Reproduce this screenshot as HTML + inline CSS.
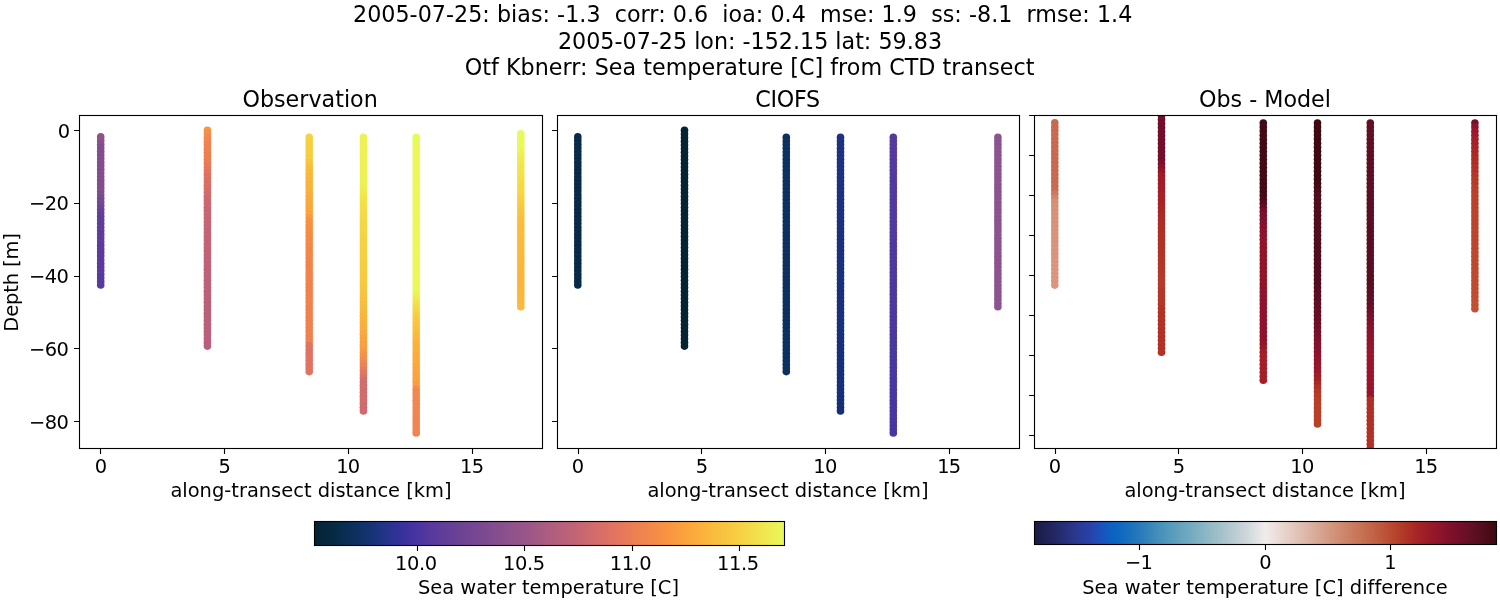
<!DOCTYPE html>
<html><head><meta charset="utf-8"><title>CTD transect</title>
<style>html,body{margin:0;padding:0;background:#fff}body{width:1500px;height:600px;overflow:hidden}</style></head>
<body>
<svg width="1500" height="600" viewBox="0 0 1500 600" style="display:block;font-family:'DejaVu Sans','Liberation Sans',sans-serif;font-variant-ligatures:none;font-feature-settings:'liga' 0,'clig' 0" fill="#000">
<rect width="1500" height="600" fill="#fff"/>
<defs><clipPath id="c0"><rect x="79.5" y="115.5" width="463.0" height="333.0"/></clipPath><clipPath id="c1"><rect x="557.5" y="115.5" width="462.0" height="333.0"/></clipPath><clipPath id="c2"><rect x="1034.5" y="115.5" width="462.0" height="333.0"/></clipPath><linearGradient id="gt" x1="0" x2="1" y1="0" y2="0"><stop offset="0.0000" stop-color="#042333"/><stop offset="0.0078" stop-color="#042436"/><stop offset="0.0156" stop-color="#05263a"/><stop offset="0.0234" stop-color="#05273d"/><stop offset="0.0312" stop-color="#062840"/><stop offset="0.0391" stop-color="#062943"/><stop offset="0.0469" stop-color="#072a47"/><stop offset="0.0547" stop-color="#082c4b"/><stop offset="0.0625" stop-color="#092d50"/><stop offset="0.0703" stop-color="#0a2e55"/><stop offset="0.0781" stop-color="#0c2f59"/><stop offset="0.0859" stop-color="#0d305e"/><stop offset="0.0938" stop-color="#0e3163"/><stop offset="0.1016" stop-color="#103268"/><stop offset="0.1094" stop-color="#12336d"/><stop offset="0.1172" stop-color="#153372"/><stop offset="0.1250" stop-color="#173477"/><stop offset="0.1328" stop-color="#1a347c"/><stop offset="0.1406" stop-color="#1f3482"/><stop offset="0.1484" stop-color="#233487"/><stop offset="0.1562" stop-color="#27348d"/><stop offset="0.1641" stop-color="#2b3391"/><stop offset="0.1719" stop-color="#2e3296"/><stop offset="0.1797" stop-color="#333299"/><stop offset="0.1875" stop-color="#38329c"/><stop offset="0.1953" stop-color="#3c329e"/><stop offset="0.2031" stop-color="#41329f"/><stop offset="0.2109" stop-color="#45339f"/><stop offset="0.2188" stop-color="#4934a0"/><stop offset="0.2266" stop-color="#4d35a0"/><stop offset="0.2344" stop-color="#50369f"/><stop offset="0.2422" stop-color="#54389e"/><stop offset="0.2500" stop-color="#58399d"/><stop offset="0.2578" stop-color="#5b3a9c"/><stop offset="0.2656" stop-color="#5d3c9b"/><stop offset="0.2734" stop-color="#603d9a"/><stop offset="0.2812" stop-color="#633e99"/><stop offset="0.2891" stop-color="#653f98"/><stop offset="0.2969" stop-color="#684096"/><stop offset="0.3047" stop-color="#6a4296"/><stop offset="0.3125" stop-color="#6d4395"/><stop offset="0.3203" stop-color="#704494"/><stop offset="0.3281" stop-color="#724594"/><stop offset="0.3359" stop-color="#744693"/><stop offset="0.3438" stop-color="#774792"/><stop offset="0.3516" stop-color="#7a4892"/><stop offset="0.3594" stop-color="#7c4991"/><stop offset="0.3672" stop-color="#7e4a90"/><stop offset="0.3750" stop-color="#814c90"/><stop offset="0.3828" stop-color="#844d8f"/><stop offset="0.3906" stop-color="#864e8e"/><stop offset="0.3984" stop-color="#884f8d"/><stop offset="0.4062" stop-color="#8b508c"/><stop offset="0.4141" stop-color="#8e518c"/><stop offset="0.4219" stop-color="#90528b"/><stop offset="0.4297" stop-color="#93538a"/><stop offset="0.4375" stop-color="#965489"/><stop offset="0.4453" stop-color="#985588"/><stop offset="0.4531" stop-color="#9b5688"/><stop offset="0.4609" stop-color="#9e5886"/><stop offset="0.4688" stop-color="#a15985"/><stop offset="0.4766" stop-color="#a45a84"/><stop offset="0.4844" stop-color="#a75b82"/><stop offset="0.4922" stop-color="#aa5c81"/><stop offset="0.5000" stop-color="#ad5d80"/><stop offset="0.5078" stop-color="#b05e7f"/><stop offset="0.5156" stop-color="#b35f7d"/><stop offset="0.5234" stop-color="#b6607c"/><stop offset="0.5312" stop-color="#b9617a"/><stop offset="0.5391" stop-color="#bc6279"/><stop offset="0.5469" stop-color="#bf6377"/><stop offset="0.5547" stop-color="#c26476"/><stop offset="0.5625" stop-color="#c56574"/><stop offset="0.5703" stop-color="#c86772"/><stop offset="0.5781" stop-color="#cb6870"/><stop offset="0.5859" stop-color="#ce6a6e"/><stop offset="0.5938" stop-color="#d16b6c"/><stop offset="0.6016" stop-color="#d46c6a"/><stop offset="0.6094" stop-color="#d86e68"/><stop offset="0.6172" stop-color="#db6f66"/><stop offset="0.6250" stop-color="#de7164"/><stop offset="0.6328" stop-color="#e07362"/><stop offset="0.6406" stop-color="#e27560"/><stop offset="0.6484" stop-color="#e4775d"/><stop offset="0.6562" stop-color="#e6795b"/><stop offset="0.6641" stop-color="#e87b58"/><stop offset="0.6719" stop-color="#ea7d56"/><stop offset="0.6797" stop-color="#ed7f54"/><stop offset="0.6875" stop-color="#ee8151"/><stop offset="0.6953" stop-color="#f0834f"/><stop offset="0.7031" stop-color="#f1854e"/><stop offset="0.7109" stop-color="#f2884c"/><stop offset="0.7188" stop-color="#f48a4a"/><stop offset="0.7266" stop-color="#f58c48"/><stop offset="0.7344" stop-color="#f68e46"/><stop offset="0.7422" stop-color="#f89144"/><stop offset="0.7500" stop-color="#f99342"/><stop offset="0.7578" stop-color="#f99641"/><stop offset="0.7656" stop-color="#fa9a40"/><stop offset="0.7734" stop-color="#fa9d3f"/><stop offset="0.7812" stop-color="#faa03e"/><stop offset="0.7891" stop-color="#fba33d"/><stop offset="0.7969" stop-color="#fba73c"/><stop offset="0.8047" stop-color="#fbaa3c"/><stop offset="0.8125" stop-color="#fbad3c"/><stop offset="0.8203" stop-color="#fbb03d"/><stop offset="0.8281" stop-color="#fab33d"/><stop offset="0.8359" stop-color="#fab63d"/><stop offset="0.8438" stop-color="#fab93e"/><stop offset="0.8516" stop-color="#fabc3e"/><stop offset="0.8594" stop-color="#f9bf3f"/><stop offset="0.8672" stop-color="#f9c240"/><stop offset="0.8750" stop-color="#f8c440"/><stop offset="0.8828" stop-color="#f8c741"/><stop offset="0.8906" stop-color="#f8ca42"/><stop offset="0.8984" stop-color="#f7cd43"/><stop offset="0.9062" stop-color="#f6d144"/><stop offset="0.9141" stop-color="#f5d446"/><stop offset="0.9219" stop-color="#f4d847"/><stop offset="0.9297" stop-color="#f3db49"/><stop offset="0.9375" stop-color="#f2de4a"/><stop offset="0.9453" stop-color="#f2e24c"/><stop offset="0.9531" stop-color="#f0e54e"/><stop offset="0.9609" stop-color="#efe950"/><stop offset="0.9688" stop-color="#edec52"/><stop offset="0.9766" stop-color="#ecf054"/><stop offset="0.9844" stop-color="#eaf356"/><stop offset="0.9922" stop-color="#e9f758"/><stop offset="1.0000" stop-color="#e7fa5a"/></linearGradient><linearGradient id="gb" x1="0" x2="1" y1="0" y2="0"><stop offset="0.0000" stop-color="#181c43"/><stop offset="0.0078" stop-color="#1a1e49"/><stop offset="0.0156" stop-color="#1c204e"/><stop offset="0.0234" stop-color="#1e2254"/><stop offset="0.0312" stop-color="#20245a"/><stop offset="0.0391" stop-color="#222660"/><stop offset="0.0469" stop-color="#232966"/><stop offset="0.0547" stop-color="#252c6d"/><stop offset="0.0625" stop-color="#262e75"/><stop offset="0.0703" stop-color="#27317d"/><stop offset="0.0781" stop-color="#293484"/><stop offset="0.0859" stop-color="#2a378c"/><stop offset="0.0938" stop-color="#2a3a92"/><stop offset="0.1016" stop-color="#293c99"/><stop offset="0.1094" stop-color="#293f9f"/><stop offset="0.1172" stop-color="#2841a6"/><stop offset="0.1250" stop-color="#2645ac"/><stop offset="0.1328" stop-color="#224ab3"/><stop offset="0.1406" stop-color="#1d4fb9"/><stop offset="0.1484" stop-color="#1755bd"/><stop offset="0.1562" stop-color="#125ac0"/><stop offset="0.1641" stop-color="#0e5fc0"/><stop offset="0.1719" stop-color="#0b63c0"/><stop offset="0.1797" stop-color="#0d66bf"/><stop offset="0.1875" stop-color="#106abe"/><stop offset="0.1953" stop-color="#146dbd"/><stop offset="0.2031" stop-color="#1870bc"/><stop offset="0.2109" stop-color="#1d73bb"/><stop offset="0.2188" stop-color="#2277ba"/><stop offset="0.2266" stop-color="#277aba"/><stop offset="0.2344" stop-color="#2c7db9"/><stop offset="0.2422" stop-color="#3281b9"/><stop offset="0.2500" stop-color="#3886b9"/><stop offset="0.2578" stop-color="#3e8ab9"/><stop offset="0.2656" stop-color="#438dba"/><stop offset="0.2734" stop-color="#4891ba"/><stop offset="0.2812" stop-color="#4e94ba"/><stop offset="0.2891" stop-color="#5398bb"/><stop offset="0.2969" stop-color="#589bbc"/><stop offset="0.3047" stop-color="#5d9ebd"/><stop offset="0.3125" stop-color="#63a1bd"/><stop offset="0.3203" stop-color="#68a4be"/><stop offset="0.3281" stop-color="#6da7bf"/><stop offset="0.3359" stop-color="#72aac0"/><stop offset="0.3438" stop-color="#78acc1"/><stop offset="0.3516" stop-color="#7eafc2"/><stop offset="0.3594" stop-color="#83b2c3"/><stop offset="0.3672" stop-color="#89b5c4"/><stop offset="0.3750" stop-color="#8eb8c5"/><stop offset="0.3828" stop-color="#94bac6"/><stop offset="0.3906" stop-color="#9abdc8"/><stop offset="0.3984" stop-color="#a0bfc9"/><stop offset="0.4062" stop-color="#a5c2cb"/><stop offset="0.4141" stop-color="#abc5cc"/><stop offset="0.4219" stop-color="#b1c8ce"/><stop offset="0.4297" stop-color="#b7cbd1"/><stop offset="0.4375" stop-color="#bdced4"/><stop offset="0.4453" stop-color="#c3d1d6"/><stop offset="0.4531" stop-color="#cad4d9"/><stop offset="0.4609" stop-color="#d0d7db"/><stop offset="0.4688" stop-color="#d6dcde"/><stop offset="0.4766" stop-color="#dde0e2"/><stop offset="0.4844" stop-color="#e4e4e5"/><stop offset="0.4922" stop-color="#eae8e8"/><stop offset="0.5000" stop-color="#f1eceb"/><stop offset="0.5078" stop-color="#efe7e5"/><stop offset="0.5156" stop-color="#ede3df"/><stop offset="0.5234" stop-color="#ebded9"/><stop offset="0.5312" stop-color="#e9dad3"/><stop offset="0.5391" stop-color="#e7d5cd"/><stop offset="0.5469" stop-color="#e6d0c8"/><stop offset="0.5547" stop-color="#e4ccc2"/><stop offset="0.5625" stop-color="#e2c7bc"/><stop offset="0.5703" stop-color="#e1c2b6"/><stop offset="0.5781" stop-color="#dfbdb0"/><stop offset="0.5859" stop-color="#ddb8aa"/><stop offset="0.5938" stop-color="#dcb3a4"/><stop offset="0.6016" stop-color="#daaf9e"/><stop offset="0.6094" stop-color="#d8aa98"/><stop offset="0.6172" stop-color="#d7a592"/><stop offset="0.6250" stop-color="#d5a08c"/><stop offset="0.6328" stop-color="#d49c86"/><stop offset="0.6406" stop-color="#d29781"/><stop offset="0.6484" stop-color="#d1937b"/><stop offset="0.6562" stop-color="#cf8e76"/><stop offset="0.6641" stop-color="#ce8a70"/><stop offset="0.6719" stop-color="#cc856b"/><stop offset="0.6797" stop-color="#cb8166"/><stop offset="0.6875" stop-color="#ca7c60"/><stop offset="0.6953" stop-color="#c8785b"/><stop offset="0.7031" stop-color="#c77456"/><stop offset="0.7109" stop-color="#c56f51"/><stop offset="0.7188" stop-color="#c46b4d"/><stop offset="0.7266" stop-color="#c26649"/><stop offset="0.7344" stop-color="#c06245"/><stop offset="0.7422" stop-color="#bf5d40"/><stop offset="0.7500" stop-color="#bd593c"/><stop offset="0.7578" stop-color="#bb5438"/><stop offset="0.7656" stop-color="#b94e34"/><stop offset="0.7734" stop-color="#b84930"/><stop offset="0.7812" stop-color="#b6442c"/><stop offset="0.7891" stop-color="#b43f28"/><stop offset="0.7969" stop-color="#b13a28"/><stop offset="0.8047" stop-color="#ae3427"/><stop offset="0.8125" stop-color="#ac2f27"/><stop offset="0.8203" stop-color="#a92a26"/><stop offset="0.8281" stop-color="#a62526"/><stop offset="0.8359" stop-color="#a22227"/><stop offset="0.8438" stop-color="#9f1e28"/><stop offset="0.8516" stop-color="#9b1b28"/><stop offset="0.8594" stop-color="#981829"/><stop offset="0.8672" stop-color="#94162a"/><stop offset="0.8750" stop-color="#8f152a"/><stop offset="0.8828" stop-color="#8a142a"/><stop offset="0.8906" stop-color="#85122a"/><stop offset="0.8984" stop-color="#80112a"/><stop offset="0.9062" stop-color="#7b102a"/><stop offset="0.9141" stop-color="#770f2a"/><stop offset="0.9219" stop-color="#710f29"/><stop offset="0.9297" stop-color="#6c0f27"/><stop offset="0.9375" stop-color="#670f25"/><stop offset="0.9453" stop-color="#620f24"/><stop offset="0.9531" stop-color="#5d0f22"/><stop offset="0.9609" stop-color="#570e20"/><stop offset="0.9688" stop-color="#520d1d"/><stop offset="0.9766" stop-color="#4c0c1a"/><stop offset="0.9844" stop-color="#470b17"/><stop offset="0.9922" stop-color="#410a15"/><stop offset="1.0000" stop-color="#3c0912"/></linearGradient></defs>
<g font-size="22.22px" text-anchor="middle">
<text x="353.0" y="21.8" text-anchor="start" textLength="779.3" xml:space="preserve">2005-07-25: bias: -1.3  corr: 0.6  ioa: 0.4  mse: 1.9  ss: -8.1  rmse: 1.4</text>
<text x="750" y="49.0">2005-07-25 lon: -152.15 lat: 59.83</text>
<text x="464.8" y="75.4" text-anchor="start" textLength="569.6">Otf Kbnerr: Sea temperature [C] from CTD transect</text>
<text x="310.1" y="106.5">Observation</text>
<text x="787.7" y="106.5" textLength="65">CIOFS</text>
<text x="1264.95" y="106.5">Obs - Model</text>
</g>
<g clip-path="url(#c0)">
<circle cx="100.7" cy="136.9" r="3.80" fill="#92538a"/><circle cx="100.7" cy="140.6" r="3.80" fill="#8d518b"/><circle cx="100.7" cy="144.2" r="3.80" fill="#88508c"/><circle cx="100.7" cy="147.8" r="3.80" fill="#834e8d"/><circle cx="100.7" cy="151.4" r="3.80" fill="#824e8d"/><circle cx="100.7" cy="155.0" r="3.80" fill="#824e8d"/><circle cx="100.7" cy="158.6" r="3.80" fill="#824e8d"/><circle cx="100.7" cy="162.2" r="3.80" fill="#824e8d"/><circle cx="100.7" cy="165.8" r="3.80" fill="#824e8d"/><circle cx="100.7" cy="169.4" r="3.80" fill="#824e8d"/><circle cx="100.7" cy="173.1" r="3.80" fill="#824e8c"/><circle cx="100.7" cy="176.7" r="3.80" fill="#824e8c"/><circle cx="100.7" cy="180.3" r="3.80" fill="#824e8c"/><circle cx="100.7" cy="183.9" r="3.80" fill="#824e8c"/><circle cx="100.7" cy="187.5" r="3.80" fill="#824e8c"/><circle cx="100.7" cy="191.1" r="3.80" fill="#824e8c"/><circle cx="100.7" cy="194.7" r="3.80" fill="#7f4c8d"/><circle cx="100.7" cy="198.3" r="3.80" fill="#7a4a90"/><circle cx="100.7" cy="201.9" r="3.80" fill="#754892"/><circle cx="100.7" cy="205.6" r="3.80" fill="#704694"/><circle cx="100.7" cy="209.2" r="3.80" fill="#6b4396"/><circle cx="100.7" cy="212.8" r="3.80" fill="#664198"/><circle cx="100.7" cy="216.4" r="3.80" fill="#613f9a"/><circle cx="100.7" cy="220.0" r="3.80" fill="#5f3e9b"/><circle cx="100.7" cy="223.6" r="3.80" fill="#5e3e9b"/><circle cx="100.7" cy="227.2" r="3.80" fill="#5e3d9b"/><circle cx="100.7" cy="230.8" r="3.80" fill="#5e3d9b"/><circle cx="100.7" cy="234.4" r="3.80" fill="#5d3d9b"/><circle cx="100.7" cy="238.1" r="3.80" fill="#5d3d9b"/><circle cx="100.7" cy="241.7" r="3.80" fill="#5d3d9b"/><circle cx="100.7" cy="245.3" r="3.80" fill="#5c3c9b"/><circle cx="100.7" cy="248.9" r="3.80" fill="#5c3c9b"/><circle cx="100.7" cy="252.5" r="3.80" fill="#5b3c9b"/><circle cx="100.7" cy="256.1" r="3.80" fill="#5b3c9b"/><circle cx="100.7" cy="259.7" r="3.80" fill="#5b3c9b"/><circle cx="100.7" cy="263.3" r="3.80" fill="#5a3b9b"/><circle cx="100.7" cy="266.9" r="3.80" fill="#5a3b9b"/><circle cx="100.7" cy="270.6" r="3.80" fill="#5a3b9b"/><circle cx="100.7" cy="274.2" r="3.80" fill="#593b9b"/><circle cx="100.7" cy="277.8" r="3.80" fill="#593a9b"/><circle cx="100.7" cy="281.4" r="3.80" fill="#583a9b"/><circle cx="100.7" cy="285.0" r="3.80" fill="#583a9b"/>
<circle cx="207.4" cy="130.4" r="3.80" fill="#fa9342"/><circle cx="207.4" cy="134.1" r="3.80" fill="#f78e47"/><circle cx="207.4" cy="137.7" r="3.80" fill="#f4894b"/><circle cx="207.4" cy="141.4" r="3.80" fill="#f18450"/><circle cx="207.4" cy="145.0" r="3.80" fill="#f08350"/><circle cx="207.4" cy="148.7" r="3.80" fill="#f08151"/><circle cx="207.4" cy="152.3" r="3.80" fill="#ef8051"/><circle cx="207.4" cy="156.0" r="3.80" fill="#ef7e52"/><circle cx="207.4" cy="159.6" r="3.80" fill="#ee7d52"/><circle cx="207.4" cy="163.3" r="3.80" fill="#eb7a55"/><circle cx="207.4" cy="167.0" r="3.80" fill="#e97859"/><circle cx="207.4" cy="170.6" r="3.80" fill="#e6755c"/><circle cx="207.4" cy="174.3" r="3.80" fill="#e3725f"/><circle cx="207.4" cy="177.9" r="3.80" fill="#e17062"/><circle cx="207.4" cy="181.6" r="3.80" fill="#de6e64"/><circle cx="207.4" cy="185.2" r="3.80" fill="#db6d66"/><circle cx="207.4" cy="188.9" r="3.80" fill="#d86c68"/><circle cx="207.4" cy="192.6" r="3.80" fill="#d56a6a"/><circle cx="207.4" cy="196.2" r="3.80" fill="#d2696c"/><circle cx="207.4" cy="199.9" r="3.80" fill="#d0676e"/><circle cx="207.4" cy="203.5" r="3.80" fill="#cd6670"/><circle cx="207.4" cy="207.2" r="3.80" fill="#cc6671"/><circle cx="207.4" cy="210.8" r="3.80" fill="#cb6571"/><circle cx="207.4" cy="214.5" r="3.80" fill="#ca6572"/><circle cx="207.4" cy="218.1" r="3.80" fill="#c96472"/><circle cx="207.4" cy="221.8" r="3.80" fill="#c86473"/><circle cx="207.4" cy="225.5" r="3.80" fill="#c76473"/><circle cx="207.4" cy="229.1" r="3.80" fill="#c76474"/><circle cx="207.4" cy="232.8" r="3.80" fill="#c66374"/><circle cx="207.4" cy="236.4" r="3.80" fill="#c56374"/><circle cx="207.4" cy="240.1" r="3.80" fill="#c56375"/><circle cx="207.4" cy="243.7" r="3.80" fill="#c46375"/><circle cx="207.4" cy="247.4" r="3.80" fill="#c46375"/><circle cx="207.4" cy="251.0" r="3.80" fill="#c36276"/><circle cx="207.4" cy="254.7" r="3.80" fill="#c26276"/><circle cx="207.4" cy="258.4" r="3.80" fill="#c26276"/><circle cx="207.4" cy="262.0" r="3.80" fill="#c16276"/><circle cx="207.4" cy="265.7" r="3.80" fill="#c06277"/><circle cx="207.4" cy="269.3" r="3.80" fill="#c06277"/><circle cx="207.4" cy="273.0" r="3.80" fill="#bf6177"/><circle cx="207.4" cy="276.6" r="3.80" fill="#be6178"/><circle cx="207.4" cy="280.3" r="3.80" fill="#be6178"/><circle cx="207.4" cy="284.0" r="3.80" fill="#be6178"/><circle cx="207.4" cy="287.6" r="3.80" fill="#bd6178"/><circle cx="207.4" cy="291.3" r="3.80" fill="#bd6178"/><circle cx="207.4" cy="294.9" r="3.80" fill="#bd6178"/><circle cx="207.4" cy="298.6" r="3.80" fill="#bd6079"/><circle cx="207.4" cy="302.2" r="3.80" fill="#bc6079"/><circle cx="207.4" cy="305.9" r="3.80" fill="#bc6079"/><circle cx="207.4" cy="309.5" r="3.80" fill="#bc6079"/><circle cx="207.4" cy="313.2" r="3.80" fill="#bb6079"/><circle cx="207.4" cy="316.9" r="3.80" fill="#bb6079"/><circle cx="207.4" cy="320.5" r="3.80" fill="#bb6079"/><circle cx="207.4" cy="324.2" r="3.80" fill="#bb6079"/><circle cx="207.4" cy="327.8" r="3.80" fill="#ba6079"/><circle cx="207.4" cy="331.5" r="3.80" fill="#ba5f7a"/><circle cx="207.4" cy="335.1" r="3.80" fill="#ba5f7a"/><circle cx="207.4" cy="338.8" r="3.80" fill="#ba5f7a"/><circle cx="207.4" cy="342.4" r="3.80" fill="#b95f7a"/><circle cx="207.4" cy="346.1" r="3.80" fill="#b95f7a"/>
<circle cx="309.2" cy="137.3" r="3.80" fill="#f5d23e"/><circle cx="309.2" cy="141.0" r="3.80" fill="#f5d13e"/><circle cx="309.2" cy="144.6" r="3.80" fill="#f5d03e"/><circle cx="309.2" cy="148.3" r="3.80" fill="#f5d03e"/><circle cx="309.2" cy="152.0" r="3.80" fill="#f6cf3e"/><circle cx="309.2" cy="155.6" r="3.80" fill="#f6ce3e"/><circle cx="309.2" cy="159.3" r="3.80" fill="#f6cd3e"/><circle cx="309.2" cy="162.9" r="3.80" fill="#f8c63c"/><circle cx="309.2" cy="166.6" r="3.80" fill="#f9bf3b"/><circle cx="309.2" cy="170.3" r="3.80" fill="#faba3a"/><circle cx="309.2" cy="173.9" r="3.80" fill="#fab93a"/><circle cx="309.2" cy="177.6" r="3.80" fill="#fab73a"/><circle cx="309.2" cy="181.2" r="3.80" fill="#fab53a"/><circle cx="309.2" cy="184.9" r="3.80" fill="#fab43a"/><circle cx="309.2" cy="188.6" r="3.80" fill="#fab23a"/><circle cx="309.2" cy="192.2" r="3.80" fill="#fab03a"/><circle cx="309.2" cy="195.9" r="3.80" fill="#faad3b"/><circle cx="309.2" cy="199.5" r="3.80" fill="#fbab3b"/><circle cx="309.2" cy="203.2" r="3.80" fill="#fba93c"/><circle cx="309.2" cy="206.9" r="3.80" fill="#fba73c"/><circle cx="309.2" cy="210.5" r="3.80" fill="#fba53c"/><circle cx="309.2" cy="214.2" r="3.80" fill="#fba43c"/><circle cx="309.2" cy="217.8" r="3.80" fill="#fa9c3d"/><circle cx="309.2" cy="221.5" r="3.80" fill="#f9913e"/><circle cx="309.2" cy="225.2" r="3.80" fill="#f89040"/><circle cx="309.2" cy="228.8" r="3.80" fill="#f88e41"/><circle cx="309.2" cy="232.5" r="3.80" fill="#f78d42"/><circle cx="309.2" cy="236.1" r="3.80" fill="#f78b43"/><circle cx="309.2" cy="239.8" r="3.80" fill="#f68a44"/><circle cx="309.2" cy="243.5" r="3.80" fill="#f58945"/><circle cx="309.2" cy="247.1" r="3.80" fill="#f58846"/><circle cx="309.2" cy="250.8" r="3.80" fill="#f48747"/><circle cx="309.2" cy="254.4" r="3.80" fill="#f48648"/><circle cx="309.2" cy="258.1" r="3.80" fill="#f38649"/><circle cx="309.2" cy="261.8" r="3.80" fill="#f3854a"/><circle cx="309.2" cy="265.4" r="3.80" fill="#f2844b"/><circle cx="309.2" cy="269.1" r="3.80" fill="#f2834c"/><circle cx="309.2" cy="272.7" r="3.80" fill="#f2834c"/><circle cx="309.2" cy="276.4" r="3.80" fill="#f2834c"/><circle cx="309.2" cy="280.1" r="3.80" fill="#f2834d"/><circle cx="309.2" cy="283.7" r="3.80" fill="#f2824d"/><circle cx="309.2" cy="287.4" r="3.80" fill="#f1824d"/><circle cx="309.2" cy="291.0" r="3.80" fill="#f1824d"/><circle cx="309.2" cy="294.7" r="3.80" fill="#f1824d"/><circle cx="309.2" cy="298.4" r="3.80" fill="#f1824e"/><circle cx="309.2" cy="302.0" r="3.80" fill="#f1824e"/><circle cx="309.2" cy="305.7" r="3.80" fill="#f1824e"/><circle cx="309.2" cy="309.3" r="3.80" fill="#f1814e"/><circle cx="309.2" cy="313.0" r="3.80" fill="#f1814e"/><circle cx="309.2" cy="316.7" r="3.80" fill="#f1814f"/><circle cx="309.2" cy="320.3" r="3.80" fill="#f1814f"/><circle cx="309.2" cy="324.0" r="3.80" fill="#f1814f"/><circle cx="309.2" cy="327.6" r="3.80" fill="#f0814f"/><circle cx="309.2" cy="331.3" r="3.80" fill="#f0804f"/><circle cx="309.2" cy="335.0" r="3.80" fill="#f08050"/><circle cx="309.2" cy="338.6" r="3.80" fill="#f08050"/><circle cx="309.2" cy="342.3" r="3.80" fill="#f08050"/><circle cx="309.2" cy="345.9" r="3.80" fill="#e17364"/><circle cx="309.2" cy="349.6" r="3.80" fill="#e17364"/><circle cx="309.2" cy="353.3" r="3.80" fill="#e17364"/><circle cx="309.2" cy="356.9" r="3.80" fill="#e17364"/><circle cx="309.2" cy="360.6" r="3.80" fill="#e17364"/><circle cx="309.2" cy="364.2" r="3.80" fill="#e17364"/><circle cx="309.2" cy="367.9" r="3.80" fill="#e17364"/><circle cx="309.2" cy="371.6" r="3.80" fill="#e17364"/>
<circle cx="363.4" cy="137.3" r="3.80" fill="#ecf352"/><circle cx="363.4" cy="141.0" r="3.80" fill="#ecf352"/><circle cx="363.4" cy="144.6" r="3.80" fill="#ecf352"/><circle cx="363.4" cy="148.3" r="3.80" fill="#ecf352"/><circle cx="363.4" cy="151.9" r="3.80" fill="#ecf352"/><circle cx="363.4" cy="155.5" r="3.80" fill="#ecf352"/><circle cx="363.4" cy="159.2" r="3.80" fill="#ecf352"/><circle cx="363.4" cy="162.8" r="3.80" fill="#ecf352"/><circle cx="363.4" cy="166.5" r="3.80" fill="#ecf352"/><circle cx="363.4" cy="170.1" r="3.80" fill="#ecf352"/><circle cx="363.4" cy="173.8" r="3.80" fill="#ecf352"/><circle cx="363.4" cy="177.4" r="3.80" fill="#ecf352"/><circle cx="363.4" cy="181.1" r="3.80" fill="#ecf352"/><circle cx="363.4" cy="184.7" r="3.80" fill="#ecf352"/><circle cx="363.4" cy="188.4" r="3.80" fill="#edf050"/><circle cx="363.4" cy="192.0" r="3.80" fill="#efec4e"/><circle cx="363.4" cy="195.7" r="3.80" fill="#f1e84b"/><circle cx="363.4" cy="199.3" r="3.80" fill="#f2e448"/><circle cx="363.4" cy="203.0" r="3.80" fill="#f4e146"/><circle cx="363.4" cy="206.6" r="3.80" fill="#f4df45"/><circle cx="363.4" cy="210.3" r="3.80" fill="#f5dd45"/><circle cx="363.4" cy="213.9" r="3.80" fill="#f5dc44"/><circle cx="363.4" cy="217.5" r="3.80" fill="#f5da44"/><circle cx="363.4" cy="221.2" r="3.80" fill="#f5d843"/><circle cx="363.4" cy="224.8" r="3.80" fill="#f6d643"/><circle cx="363.4" cy="228.5" r="3.80" fill="#f6d542"/><circle cx="363.4" cy="232.1" r="3.80" fill="#f6d442"/><circle cx="363.4" cy="235.8" r="3.80" fill="#f6d342"/><circle cx="363.4" cy="239.4" r="3.80" fill="#f6d241"/><circle cx="363.4" cy="243.1" r="3.80" fill="#f7d141"/><circle cx="363.4" cy="246.7" r="3.80" fill="#f7d141"/><circle cx="363.4" cy="250.4" r="3.80" fill="#f7d040"/><circle cx="363.4" cy="254.0" r="3.80" fill="#f7cf40"/><circle cx="363.4" cy="257.7" r="3.80" fill="#f7cf40"/><circle cx="363.4" cy="261.3" r="3.80" fill="#f7ce40"/><circle cx="363.4" cy="265.0" r="3.80" fill="#f7cd3f"/><circle cx="363.4" cy="268.6" r="3.80" fill="#f7cd3f"/><circle cx="363.4" cy="272.3" r="3.80" fill="#f8cc3f"/><circle cx="363.4" cy="275.9" r="3.80" fill="#f8cb3f"/><circle cx="363.4" cy="279.6" r="3.80" fill="#f8cb3e"/><circle cx="363.4" cy="283.2" r="3.80" fill="#f8ca3e"/><circle cx="363.4" cy="286.8" r="3.80" fill="#f8c83e"/><circle cx="363.4" cy="290.5" r="3.80" fill="#f9c63d"/><circle cx="363.4" cy="294.1" r="3.80" fill="#f9c33d"/><circle cx="363.4" cy="297.8" r="3.80" fill="#f9c13c"/><circle cx="363.4" cy="301.4" r="3.80" fill="#fabf3c"/><circle cx="363.4" cy="305.1" r="3.80" fill="#fabd3c"/><circle cx="363.4" cy="308.7" r="3.80" fill="#fabb3b"/><circle cx="363.4" cy="312.4" r="3.80" fill="#fab83b"/><circle cx="363.4" cy="316.0" r="3.80" fill="#fbb63a"/><circle cx="363.4" cy="319.7" r="3.80" fill="#fbb43a"/><circle cx="363.4" cy="323.3" r="3.80" fill="#fbb13a"/><circle cx="363.4" cy="327.0" r="3.80" fill="#fbae3b"/><circle cx="363.4" cy="330.6" r="3.80" fill="#fbab3b"/><circle cx="363.4" cy="334.3" r="3.80" fill="#fba83c"/><circle cx="363.4" cy="337.9" r="3.80" fill="#faa53c"/><circle cx="363.4" cy="341.6" r="3.80" fill="#faa23d"/><circle cx="363.4" cy="345.2" r="3.80" fill="#faa03d"/><circle cx="363.4" cy="348.8" r="3.80" fill="#fa9d3e"/><circle cx="363.4" cy="352.5" r="3.80" fill="#f99841"/><circle cx="363.4" cy="356.1" r="3.80" fill="#f69246"/><circle cx="363.4" cy="359.8" r="3.80" fill="#f38d4c"/><circle cx="363.4" cy="363.4" r="3.80" fill="#f08751"/><circle cx="363.4" cy="367.1" r="3.80" fill="#ed8157"/><circle cx="363.4" cy="370.7" r="3.80" fill="#e87b5c"/><circle cx="363.4" cy="374.4" r="3.80" fill="#e27661"/><circle cx="363.4" cy="378.0" r="3.80" fill="#db7167"/><circle cx="363.4" cy="381.7" r="3.80" fill="#d46c6c"/><circle cx="363.4" cy="385.3" r="3.80" fill="#d46c6c"/><circle cx="363.4" cy="389.0" r="3.80" fill="#d46b6c"/><circle cx="363.4" cy="392.6" r="3.80" fill="#d36b6d"/><circle cx="363.4" cy="396.3" r="3.80" fill="#d36b6d"/><circle cx="363.4" cy="399.9" r="3.80" fill="#d36a6d"/><circle cx="363.4" cy="403.6" r="3.80" fill="#d36a6d"/><circle cx="363.4" cy="407.2" r="3.80" fill="#d2696e"/><circle cx="363.4" cy="410.9" r="3.80" fill="#d2696e"/>
<circle cx="416.2" cy="137.3" r="3.80" fill="#e7fa58"/><circle cx="416.2" cy="141.0" r="3.80" fill="#e7fa58"/><circle cx="416.2" cy="144.6" r="3.80" fill="#e7fa58"/><circle cx="416.2" cy="148.3" r="3.80" fill="#e7fa58"/><circle cx="416.2" cy="151.9" r="3.80" fill="#e7fa58"/><circle cx="416.2" cy="155.6" r="3.80" fill="#e7fa58"/><circle cx="416.2" cy="159.2" r="3.80" fill="#e7fa58"/><circle cx="416.2" cy="162.9" r="3.80" fill="#e7fa58"/><circle cx="416.2" cy="166.5" r="3.80" fill="#e7fa58"/><circle cx="416.2" cy="170.2" r="3.80" fill="#e7fa58"/><circle cx="416.2" cy="173.8" r="3.80" fill="#e7fa58"/><circle cx="416.2" cy="177.5" r="3.80" fill="#e7fa58"/><circle cx="416.2" cy="181.1" r="3.80" fill="#e7fa58"/><circle cx="416.2" cy="184.8" r="3.80" fill="#e7fa58"/><circle cx="416.2" cy="188.4" r="3.80" fill="#e7fa58"/><circle cx="416.2" cy="192.1" r="3.80" fill="#e7fa58"/><circle cx="416.2" cy="195.7" r="3.80" fill="#e7fa58"/><circle cx="416.2" cy="199.4" r="3.80" fill="#e7fa58"/><circle cx="416.2" cy="203.0" r="3.80" fill="#e7fa58"/><circle cx="416.2" cy="206.7" r="3.80" fill="#e7fa58"/><circle cx="416.2" cy="210.3" r="3.80" fill="#e7fa58"/><circle cx="416.2" cy="214.0" r="3.80" fill="#e7fa58"/><circle cx="416.2" cy="217.6" r="3.80" fill="#e7fa58"/><circle cx="416.2" cy="221.3" r="3.80" fill="#e7fa58"/><circle cx="416.2" cy="224.9" r="3.80" fill="#e7fa58"/><circle cx="416.2" cy="228.6" r="3.80" fill="#e7fa58"/><circle cx="416.2" cy="232.2" r="3.80" fill="#e7fa58"/><circle cx="416.2" cy="235.9" r="3.80" fill="#e7fa58"/><circle cx="416.2" cy="239.5" r="3.80" fill="#e7fa58"/><circle cx="416.2" cy="243.2" r="3.80" fill="#e7fa58"/><circle cx="416.2" cy="246.8" r="3.80" fill="#e7fa58"/><circle cx="416.2" cy="250.5" r="3.80" fill="#e7fa58"/><circle cx="416.2" cy="254.1" r="3.80" fill="#e7fa58"/><circle cx="416.2" cy="257.8" r="3.80" fill="#e7fa58"/><circle cx="416.2" cy="261.4" r="3.80" fill="#e7fa58"/><circle cx="416.2" cy="265.1" r="3.80" fill="#e7fa58"/><circle cx="416.2" cy="268.7" r="3.80" fill="#e7fa58"/><circle cx="416.2" cy="272.4" r="3.80" fill="#e7fa58"/><circle cx="416.2" cy="276.0" r="3.80" fill="#e7fa58"/><circle cx="416.2" cy="279.7" r="3.80" fill="#e7fa58"/><circle cx="416.2" cy="283.4" r="3.80" fill="#e7fa58"/><circle cx="416.2" cy="287.0" r="3.80" fill="#e7fa58"/><circle cx="416.2" cy="290.7" r="3.80" fill="#e7fa58"/><circle cx="416.2" cy="294.3" r="3.80" fill="#e9f655"/><circle cx="416.2" cy="298.0" r="3.80" fill="#edef51"/><circle cx="416.2" cy="301.6" r="3.80" fill="#f0e74c"/><circle cx="416.2" cy="305.3" r="3.80" fill="#f3e048"/><circle cx="416.2" cy="308.9" r="3.80" fill="#f5da45"/><circle cx="416.2" cy="312.6" r="3.80" fill="#f7d443"/><circle cx="416.2" cy="316.2" r="3.80" fill="#f8ce40"/><circle cx="416.2" cy="319.9" r="3.80" fill="#fac83e"/><circle cx="416.2" cy="323.5" r="3.80" fill="#fac53d"/><circle cx="416.2" cy="327.2" r="3.80" fill="#fbc23d"/><circle cx="416.2" cy="330.8" r="3.80" fill="#fbbe3c"/><circle cx="416.2" cy="334.5" r="3.80" fill="#fbbb3c"/><circle cx="416.2" cy="338.1" r="3.80" fill="#fbb83b"/><circle cx="416.2" cy="341.8" r="3.80" fill="#fcb53b"/><circle cx="416.2" cy="345.4" r="3.80" fill="#fcb23a"/><circle cx="416.2" cy="349.1" r="3.80" fill="#fcaf3a"/><circle cx="416.2" cy="352.7" r="3.80" fill="#fcae3a"/><circle cx="416.2" cy="356.4" r="3.80" fill="#fcac3b"/><circle cx="416.2" cy="360.0" r="3.80" fill="#fbaa3b"/><circle cx="416.2" cy="363.7" r="3.80" fill="#fba93c"/><circle cx="416.2" cy="367.3" r="3.80" fill="#fba73c"/><circle cx="416.2" cy="371.0" r="3.80" fill="#fba53c"/><circle cx="416.2" cy="374.6" r="3.80" fill="#fba43d"/><circle cx="416.2" cy="378.3" r="3.80" fill="#faa23d"/><circle cx="416.2" cy="381.9" r="3.80" fill="#faa03e"/><circle cx="416.2" cy="385.6" r="3.80" fill="#fa9e3e"/><circle cx="416.2" cy="389.2" r="3.80" fill="#f58d4a"/><circle cx="416.2" cy="392.9" r="3.80" fill="#f3874e"/><circle cx="416.2" cy="396.5" r="3.80" fill="#f3874e"/><circle cx="416.2" cy="400.2" r="3.80" fill="#f3864e"/><circle cx="416.2" cy="403.8" r="3.80" fill="#f3864f"/><circle cx="416.2" cy="407.5" r="3.80" fill="#f3864f"/><circle cx="416.2" cy="411.1" r="3.80" fill="#f3864f"/><circle cx="416.2" cy="414.8" r="3.80" fill="#f2854f"/><circle cx="416.2" cy="418.4" r="3.80" fill="#f2854f"/><circle cx="416.2" cy="422.1" r="3.80" fill="#f2854f"/><circle cx="416.2" cy="425.7" r="3.80" fill="#f28550"/><circle cx="416.2" cy="429.4" r="3.80" fill="#f28450"/><circle cx="416.2" cy="433.0" r="3.80" fill="#f28450"/>
<circle cx="520.8" cy="133.7" r="3.80" fill="#e5fa5a"/><circle cx="520.8" cy="137.3" r="3.80" fill="#e6fa5a"/><circle cx="520.8" cy="140.9" r="3.80" fill="#e6f959"/><circle cx="520.8" cy="144.5" r="3.80" fill="#e7f959"/><circle cx="520.8" cy="148.1" r="3.80" fill="#e8f858"/><circle cx="520.8" cy="151.7" r="3.80" fill="#eaf456"/><circle cx="520.8" cy="155.3" r="3.80" fill="#edf053"/><circle cx="520.8" cy="158.9" r="3.80" fill="#f0ec50"/><circle cx="520.8" cy="162.5" r="3.80" fill="#f1e94f"/><circle cx="520.8" cy="166.1" r="3.80" fill="#f1e74d"/><circle cx="520.8" cy="169.7" r="3.80" fill="#f2e54c"/><circle cx="520.8" cy="173.4" r="3.80" fill="#f3e34a"/><circle cx="520.8" cy="177.0" r="3.80" fill="#f4e049"/><circle cx="520.8" cy="180.6" r="3.80" fill="#f5de47"/><circle cx="520.8" cy="184.2" r="3.80" fill="#f5dc45"/><circle cx="520.8" cy="187.8" r="3.80" fill="#f6da44"/><circle cx="520.8" cy="191.4" r="3.80" fill="#f7d842"/><circle cx="520.8" cy="195.0" r="3.80" fill="#f7d541"/><circle cx="520.8" cy="198.6" r="3.80" fill="#f8d241"/><circle cx="520.8" cy="202.2" r="3.80" fill="#f8ce40"/><circle cx="520.8" cy="205.8" r="3.80" fill="#f9cb3f"/><circle cx="520.8" cy="209.4" r="3.80" fill="#f9c83e"/><circle cx="520.8" cy="213.0" r="3.80" fill="#fac53e"/><circle cx="520.8" cy="216.6" r="3.80" fill="#fac23d"/><circle cx="520.8" cy="220.2" r="3.80" fill="#fbbf3c"/><circle cx="520.8" cy="223.9" r="3.80" fill="#fbbe3c"/><circle cx="520.8" cy="227.5" r="3.80" fill="#fbbd3c"/><circle cx="520.8" cy="231.1" r="3.80" fill="#fbbc3c"/><circle cx="520.8" cy="234.7" r="3.80" fill="#fbbc3c"/><circle cx="520.8" cy="238.3" r="3.80" fill="#fbbb3b"/><circle cx="520.8" cy="241.9" r="3.80" fill="#fbbb3b"/><circle cx="520.8" cy="245.5" r="3.80" fill="#fbba3b"/><circle cx="520.8" cy="249.1" r="3.80" fill="#fbba3b"/><circle cx="520.8" cy="252.7" r="3.80" fill="#fcb93b"/><circle cx="520.8" cy="256.3" r="3.80" fill="#fcb83b"/><circle cx="520.8" cy="259.9" r="3.80" fill="#fcb83b"/><circle cx="520.8" cy="263.5" r="3.80" fill="#fcb73b"/><circle cx="520.8" cy="267.1" r="3.80" fill="#fcb73b"/><circle cx="520.8" cy="270.7" r="3.80" fill="#fcb63a"/><circle cx="520.8" cy="274.4" r="3.80" fill="#fcb53a"/><circle cx="520.8" cy="278.0" r="3.80" fill="#fcb53a"/><circle cx="520.8" cy="281.6" r="3.80" fill="#fcb43a"/><circle cx="520.8" cy="285.2" r="3.80" fill="#fcb43a"/><circle cx="520.8" cy="288.8" r="3.80" fill="#fcb53a"/><circle cx="520.8" cy="292.4" r="3.80" fill="#fcb63a"/><circle cx="520.8" cy="296.0" r="3.80" fill="#fcb73a"/><circle cx="520.8" cy="299.6" r="3.80" fill="#fcb73a"/><circle cx="520.8" cy="303.2" r="3.80" fill="#fcb83a"/><circle cx="520.8" cy="306.8" r="3.80" fill="#fcb93a"/>
</g>
<path d="M100.50 448.50v5.4M224.50 448.50v5.4M348.50 448.50v5.4M472.50 448.50v5.4M79.50 130.50h-5.4M79.50 203.50h-5.4M79.50 276.50h-5.4M79.50 348.50h-5.4M79.50 421.50h-5.4" stroke="#000" stroke-width="1.11" fill="none"/>
<rect x="79.50" y="115.50" width="463.00" height="333.00" fill="none" stroke="#000" stroke-width="1.11"/>
<g font-size="19.44px" text-anchor="middle">
<text x="100.9" y="473.3" textLength="12">0</text>
<text x="224.8" y="473.3" textLength="12">5</text>
<text x="348.2" y="473.3" textLength="24">10</text>
<text x="472.1" y="473.3" textLength="24">15</text>
</g>
<text x="311.0" y="497.1" font-size="19.44px" text-anchor="middle">along-transect distance [km]</text>
<g clip-path="url(#c1)">
<circle cx="577.8" cy="136.9" r="3.80" fill="#082a48"/><circle cx="577.8" cy="140.6" r="3.80" fill="#082a48"/><circle cx="577.8" cy="144.2" r="3.80" fill="#082a48"/><circle cx="577.8" cy="147.8" r="3.80" fill="#082a48"/><circle cx="577.8" cy="151.4" r="3.80" fill="#082a48"/><circle cx="577.8" cy="155.0" r="3.80" fill="#082a48"/><circle cx="577.8" cy="158.6" r="3.80" fill="#082a48"/><circle cx="577.8" cy="162.2" r="3.80" fill="#082a48"/><circle cx="577.8" cy="165.8" r="3.80" fill="#082a48"/><circle cx="577.8" cy="169.4" r="3.80" fill="#082a48"/><circle cx="577.8" cy="173.1" r="3.80" fill="#082a48"/><circle cx="577.8" cy="176.7" r="3.80" fill="#082a48"/><circle cx="577.8" cy="180.3" r="3.80" fill="#082a48"/><circle cx="577.8" cy="183.9" r="3.80" fill="#082a48"/><circle cx="577.8" cy="187.5" r="3.80" fill="#082a48"/><circle cx="577.8" cy="191.1" r="3.80" fill="#082a48"/><circle cx="577.8" cy="194.7" r="3.80" fill="#082a48"/><circle cx="577.8" cy="198.3" r="3.80" fill="#082a48"/><circle cx="577.8" cy="201.9" r="3.80" fill="#082a48"/><circle cx="577.8" cy="205.6" r="3.80" fill="#082a48"/><circle cx="577.8" cy="209.2" r="3.80" fill="#082a48"/><circle cx="577.8" cy="212.8" r="3.80" fill="#082a48"/><circle cx="577.8" cy="216.4" r="3.80" fill="#082a48"/><circle cx="577.8" cy="220.0" r="3.80" fill="#082a48"/><circle cx="577.8" cy="223.6" r="3.80" fill="#082a48"/><circle cx="577.8" cy="227.2" r="3.80" fill="#082a48"/><circle cx="577.8" cy="230.8" r="3.80" fill="#082a48"/><circle cx="577.8" cy="234.4" r="3.80" fill="#082a48"/><circle cx="577.8" cy="238.1" r="3.80" fill="#082a48"/><circle cx="577.8" cy="241.7" r="3.80" fill="#082a48"/><circle cx="577.8" cy="245.3" r="3.80" fill="#082a48"/><circle cx="577.8" cy="248.9" r="3.80" fill="#082a48"/><circle cx="577.8" cy="252.5" r="3.80" fill="#082a48"/><circle cx="577.8" cy="256.1" r="3.80" fill="#082a48"/><circle cx="577.8" cy="259.7" r="3.80" fill="#082a48"/><circle cx="577.8" cy="263.3" r="3.80" fill="#082a48"/><circle cx="577.8" cy="266.9" r="3.80" fill="#082a48"/><circle cx="577.8" cy="270.6" r="3.80" fill="#082a48"/><circle cx="577.8" cy="274.2" r="3.80" fill="#082a48"/><circle cx="577.8" cy="277.8" r="3.80" fill="#082a48"/><circle cx="577.8" cy="281.4" r="3.80" fill="#082a48"/><circle cx="577.8" cy="285.0" r="3.80" fill="#082a48"/>
<circle cx="684.5" cy="130.4" r="3.80" fill="#042333"/><circle cx="684.5" cy="134.1" r="3.80" fill="#042333"/><circle cx="684.5" cy="137.7" r="3.80" fill="#042333"/><circle cx="684.5" cy="141.4" r="3.80" fill="#042333"/><circle cx="684.5" cy="145.0" r="3.80" fill="#042333"/><circle cx="684.5" cy="148.7" r="3.80" fill="#042333"/><circle cx="684.5" cy="152.3" r="3.80" fill="#042333"/><circle cx="684.5" cy="156.0" r="3.80" fill="#042333"/><circle cx="684.5" cy="159.6" r="3.80" fill="#042333"/><circle cx="684.5" cy="163.3" r="3.80" fill="#042333"/><circle cx="684.5" cy="167.0" r="3.80" fill="#042333"/><circle cx="684.5" cy="170.6" r="3.80" fill="#042333"/><circle cx="684.5" cy="174.3" r="3.80" fill="#042333"/><circle cx="684.5" cy="177.9" r="3.80" fill="#042333"/><circle cx="684.5" cy="181.6" r="3.80" fill="#042333"/><circle cx="684.5" cy="185.2" r="3.80" fill="#042333"/><circle cx="684.5" cy="188.9" r="3.80" fill="#042333"/><circle cx="684.5" cy="192.6" r="3.80" fill="#042333"/><circle cx="684.5" cy="196.2" r="3.80" fill="#042333"/><circle cx="684.5" cy="199.9" r="3.80" fill="#042333"/><circle cx="684.5" cy="203.5" r="3.80" fill="#042333"/><circle cx="684.5" cy="207.2" r="3.80" fill="#042333"/><circle cx="684.5" cy="210.8" r="3.80" fill="#042333"/><circle cx="684.5" cy="214.5" r="3.80" fill="#042333"/><circle cx="684.5" cy="218.1" r="3.80" fill="#042333"/><circle cx="684.5" cy="221.8" r="3.80" fill="#042333"/><circle cx="684.5" cy="225.5" r="3.80" fill="#042333"/><circle cx="684.5" cy="229.1" r="3.80" fill="#042333"/><circle cx="684.5" cy="232.8" r="3.80" fill="#042333"/><circle cx="684.5" cy="236.4" r="3.80" fill="#042333"/><circle cx="684.5" cy="240.1" r="3.80" fill="#042333"/><circle cx="684.5" cy="243.7" r="3.80" fill="#042333"/><circle cx="684.5" cy="247.4" r="3.80" fill="#042333"/><circle cx="684.5" cy="251.0" r="3.80" fill="#042333"/><circle cx="684.5" cy="254.7" r="3.80" fill="#042333"/><circle cx="684.5" cy="258.4" r="3.80" fill="#042333"/><circle cx="684.5" cy="262.0" r="3.80" fill="#042333"/><circle cx="684.5" cy="265.7" r="3.80" fill="#042333"/><circle cx="684.5" cy="269.3" r="3.80" fill="#042333"/><circle cx="684.5" cy="273.0" r="3.80" fill="#042333"/><circle cx="684.5" cy="276.6" r="3.80" fill="#042333"/><circle cx="684.5" cy="280.3" r="3.80" fill="#042333"/><circle cx="684.5" cy="284.0" r="3.80" fill="#042333"/><circle cx="684.5" cy="287.6" r="3.80" fill="#042333"/><circle cx="684.5" cy="291.3" r="3.80" fill="#042333"/><circle cx="684.5" cy="294.9" r="3.80" fill="#042333"/><circle cx="684.5" cy="298.6" r="3.80" fill="#042333"/><circle cx="684.5" cy="302.2" r="3.80" fill="#042333"/><circle cx="684.5" cy="305.9" r="3.80" fill="#042333"/><circle cx="684.5" cy="309.5" r="3.80" fill="#042333"/><circle cx="684.5" cy="313.2" r="3.80" fill="#042333"/><circle cx="684.5" cy="316.9" r="3.80" fill="#042333"/><circle cx="684.5" cy="320.5" r="3.80" fill="#042333"/><circle cx="684.5" cy="324.2" r="3.80" fill="#042333"/><circle cx="684.5" cy="327.8" r="3.80" fill="#042333"/><circle cx="684.5" cy="331.5" r="3.80" fill="#042333"/><circle cx="684.5" cy="335.1" r="3.80" fill="#042333"/><circle cx="684.5" cy="338.8" r="3.80" fill="#042333"/><circle cx="684.5" cy="342.4" r="3.80" fill="#042333"/><circle cx="684.5" cy="346.1" r="3.80" fill="#042333"/>
<circle cx="786.3" cy="137.3" r="3.80" fill="#0c305f"/><circle cx="786.3" cy="141.0" r="3.80" fill="#0c305f"/><circle cx="786.3" cy="144.6" r="3.80" fill="#0c305f"/><circle cx="786.3" cy="148.3" r="3.80" fill="#0c305f"/><circle cx="786.3" cy="152.0" r="3.80" fill="#0c305f"/><circle cx="786.3" cy="155.6" r="3.80" fill="#0c305f"/><circle cx="786.3" cy="159.3" r="3.80" fill="#0c305f"/><circle cx="786.3" cy="162.9" r="3.80" fill="#0c305f"/><circle cx="786.3" cy="166.6" r="3.80" fill="#0c305f"/><circle cx="786.3" cy="170.3" r="3.80" fill="#0c305f"/><circle cx="786.3" cy="173.9" r="3.80" fill="#0c305f"/><circle cx="786.3" cy="177.6" r="3.80" fill="#0c305f"/><circle cx="786.3" cy="181.2" r="3.80" fill="#0c305f"/><circle cx="786.3" cy="184.9" r="3.80" fill="#0c305f"/><circle cx="786.3" cy="188.6" r="3.80" fill="#0c305f"/><circle cx="786.3" cy="192.2" r="3.80" fill="#0c305f"/><circle cx="786.3" cy="195.9" r="3.80" fill="#0c305f"/><circle cx="786.3" cy="199.5" r="3.80" fill="#0c305f"/><circle cx="786.3" cy="203.2" r="3.80" fill="#0c305f"/><circle cx="786.3" cy="206.9" r="3.80" fill="#0c305f"/><circle cx="786.3" cy="210.5" r="3.80" fill="#0c305f"/><circle cx="786.3" cy="214.2" r="3.80" fill="#0c305f"/><circle cx="786.3" cy="217.8" r="3.80" fill="#0c305f"/><circle cx="786.3" cy="221.5" r="3.80" fill="#0c305f"/><circle cx="786.3" cy="225.2" r="3.80" fill="#0c305f"/><circle cx="786.3" cy="228.8" r="3.80" fill="#0c305f"/><circle cx="786.3" cy="232.5" r="3.80" fill="#0c305f"/><circle cx="786.3" cy="236.1" r="3.80" fill="#0c305f"/><circle cx="786.3" cy="239.8" r="3.80" fill="#0c305f"/><circle cx="786.3" cy="243.5" r="3.80" fill="#0c305f"/><circle cx="786.3" cy="247.1" r="3.80" fill="#0c305f"/><circle cx="786.3" cy="250.8" r="3.80" fill="#0c305f"/><circle cx="786.3" cy="254.4" r="3.80" fill="#0c305f"/><circle cx="786.3" cy="258.1" r="3.80" fill="#0c305f"/><circle cx="786.3" cy="261.8" r="3.80" fill="#0c305f"/><circle cx="786.3" cy="265.4" r="3.80" fill="#0c305f"/><circle cx="786.3" cy="269.1" r="3.80" fill="#0c305f"/><circle cx="786.3" cy="272.7" r="3.80" fill="#0c305f"/><circle cx="786.3" cy="276.4" r="3.80" fill="#0c305f"/><circle cx="786.3" cy="280.1" r="3.80" fill="#0c305f"/><circle cx="786.3" cy="283.7" r="3.80" fill="#0c305f"/><circle cx="786.3" cy="287.4" r="3.80" fill="#0c305f"/><circle cx="786.3" cy="291.0" r="3.80" fill="#0c305f"/><circle cx="786.3" cy="294.7" r="3.80" fill="#0c305f"/><circle cx="786.3" cy="298.4" r="3.80" fill="#0c305f"/><circle cx="786.3" cy="302.0" r="3.80" fill="#0c305f"/><circle cx="786.3" cy="305.7" r="3.80" fill="#0c305f"/><circle cx="786.3" cy="309.3" r="3.80" fill="#0c305f"/><circle cx="786.3" cy="313.0" r="3.80" fill="#0c305f"/><circle cx="786.3" cy="316.7" r="3.80" fill="#0c305f"/><circle cx="786.3" cy="320.3" r="3.80" fill="#0c305f"/><circle cx="786.3" cy="324.0" r="3.80" fill="#0c305f"/><circle cx="786.3" cy="327.6" r="3.80" fill="#0c305f"/><circle cx="786.3" cy="331.3" r="3.80" fill="#0c305f"/><circle cx="786.3" cy="335.0" r="3.80" fill="#0c305f"/><circle cx="786.3" cy="338.6" r="3.80" fill="#0c305f"/><circle cx="786.3" cy="342.3" r="3.80" fill="#0c305f"/><circle cx="786.3" cy="345.9" r="3.80" fill="#0c305f"/><circle cx="786.3" cy="349.6" r="3.80" fill="#0c305f"/><circle cx="786.3" cy="353.3" r="3.80" fill="#0c305f"/><circle cx="786.3" cy="356.9" r="3.80" fill="#0c305f"/><circle cx="786.3" cy="360.6" r="3.80" fill="#0c305f"/><circle cx="786.3" cy="364.2" r="3.80" fill="#0c305f"/><circle cx="786.3" cy="367.9" r="3.80" fill="#0c305f"/><circle cx="786.3" cy="371.6" r="3.80" fill="#0c305f"/>
<circle cx="840.5" cy="137.3" r="3.80" fill="#1e3282"/><circle cx="840.5" cy="141.0" r="3.80" fill="#1e3282"/><circle cx="840.5" cy="144.6" r="3.80" fill="#1e3281"/><circle cx="840.5" cy="148.3" r="3.80" fill="#1d3281"/><circle cx="840.5" cy="151.9" r="3.80" fill="#1d3281"/><circle cx="840.5" cy="155.5" r="3.80" fill="#1d3281"/><circle cx="840.5" cy="159.2" r="3.80" fill="#1d3281"/><circle cx="840.5" cy="162.8" r="3.80" fill="#1d3281"/><circle cx="840.5" cy="166.5" r="3.80" fill="#1d3281"/><circle cx="840.5" cy="170.1" r="3.80" fill="#1d3281"/><circle cx="840.5" cy="173.8" r="3.80" fill="#1d3280"/><circle cx="840.5" cy="177.4" r="3.80" fill="#1d3280"/><circle cx="840.5" cy="181.1" r="3.80" fill="#1d3280"/><circle cx="840.5" cy="184.7" r="3.80" fill="#1c3280"/><circle cx="840.5" cy="188.4" r="3.80" fill="#1c3280"/><circle cx="840.5" cy="192.0" r="3.80" fill="#1c3280"/><circle cx="840.5" cy="195.7" r="3.80" fill="#1c3280"/><circle cx="840.5" cy="199.3" r="3.80" fill="#1c3280"/><circle cx="840.5" cy="203.0" r="3.80" fill="#1c317f"/><circle cx="840.5" cy="206.6" r="3.80" fill="#1c317f"/><circle cx="840.5" cy="210.3" r="3.80" fill="#1c317f"/><circle cx="840.5" cy="213.9" r="3.80" fill="#1c317f"/><circle cx="840.5" cy="217.5" r="3.80" fill="#1c317f"/><circle cx="840.5" cy="221.2" r="3.80" fill="#1b317f"/><circle cx="840.5" cy="224.8" r="3.80" fill="#1b317f"/><circle cx="840.5" cy="228.5" r="3.80" fill="#1b317e"/><circle cx="840.5" cy="232.1" r="3.80" fill="#1b317e"/><circle cx="840.5" cy="235.8" r="3.80" fill="#1b317e"/><circle cx="840.5" cy="239.4" r="3.80" fill="#1b317e"/><circle cx="840.5" cy="243.1" r="3.80" fill="#1b317e"/><circle cx="840.5" cy="246.7" r="3.80" fill="#1b317e"/><circle cx="840.5" cy="250.4" r="3.80" fill="#1b317e"/><circle cx="840.5" cy="254.0" r="3.80" fill="#1a317e"/><circle cx="840.5" cy="257.7" r="3.80" fill="#1a317d"/><circle cx="840.5" cy="261.3" r="3.80" fill="#1a317d"/><circle cx="840.5" cy="265.0" r="3.80" fill="#1a317d"/><circle cx="840.5" cy="268.6" r="3.80" fill="#1a317d"/><circle cx="840.5" cy="272.3" r="3.80" fill="#1a317d"/><circle cx="840.5" cy="275.9" r="3.80" fill="#1a317d"/><circle cx="840.5" cy="279.6" r="3.80" fill="#1a317d"/><circle cx="840.5" cy="283.2" r="3.80" fill="#1a317d"/><circle cx="840.5" cy="286.8" r="3.80" fill="#1a317c"/><circle cx="840.5" cy="290.5" r="3.80" fill="#19317c"/><circle cx="840.5" cy="294.1" r="3.80" fill="#19317c"/><circle cx="840.5" cy="297.8" r="3.80" fill="#19317c"/><circle cx="840.5" cy="301.4" r="3.80" fill="#19317c"/><circle cx="840.5" cy="305.1" r="3.80" fill="#19317c"/><circle cx="840.5" cy="308.7" r="3.80" fill="#19317c"/><circle cx="840.5" cy="312.4" r="3.80" fill="#19317c"/><circle cx="840.5" cy="316.0" r="3.80" fill="#19317b"/><circle cx="840.5" cy="319.7" r="3.80" fill="#19317b"/><circle cx="840.5" cy="323.3" r="3.80" fill="#18317b"/><circle cx="840.5" cy="327.0" r="3.80" fill="#18317b"/><circle cx="840.5" cy="330.6" r="3.80" fill="#18317b"/><circle cx="840.5" cy="334.3" r="3.80" fill="#18317b"/><circle cx="840.5" cy="337.9" r="3.80" fill="#18317b"/><circle cx="840.5" cy="341.6" r="3.80" fill="#18307a"/><circle cx="840.5" cy="345.2" r="3.80" fill="#18307a"/><circle cx="840.5" cy="348.8" r="3.80" fill="#18307a"/><circle cx="840.5" cy="352.5" r="3.80" fill="#18307a"/><circle cx="840.5" cy="356.1" r="3.80" fill="#18307a"/><circle cx="840.5" cy="359.8" r="3.80" fill="#17307a"/><circle cx="840.5" cy="363.4" r="3.80" fill="#17307a"/><circle cx="840.5" cy="367.1" r="3.80" fill="#17307a"/><circle cx="840.5" cy="370.7" r="3.80" fill="#173079"/><circle cx="840.5" cy="374.4" r="3.80" fill="#173079"/><circle cx="840.5" cy="378.0" r="3.80" fill="#173079"/><circle cx="840.5" cy="381.7" r="3.80" fill="#173079"/><circle cx="840.5" cy="385.3" r="3.80" fill="#173079"/><circle cx="840.5" cy="389.0" r="3.80" fill="#173079"/><circle cx="840.5" cy="392.6" r="3.80" fill="#173079"/><circle cx="840.5" cy="396.3" r="3.80" fill="#163079"/><circle cx="840.5" cy="399.9" r="3.80" fill="#163078"/><circle cx="840.5" cy="403.6" r="3.80" fill="#163078"/><circle cx="840.5" cy="407.2" r="3.80" fill="#163078"/><circle cx="840.5" cy="410.9" r="3.80" fill="#163078"/>
<circle cx="893.3" cy="137.3" r="3.80" fill="#553a9e"/><circle cx="893.3" cy="141.0" r="3.80" fill="#543a9e"/><circle cx="893.3" cy="144.6" r="3.80" fill="#543a9e"/><circle cx="893.3" cy="148.3" r="3.80" fill="#543a9e"/><circle cx="893.3" cy="151.9" r="3.80" fill="#543a9e"/><circle cx="893.3" cy="155.6" r="3.80" fill="#543a9e"/><circle cx="893.3" cy="159.2" r="3.80" fill="#543a9e"/><circle cx="893.3" cy="162.9" r="3.80" fill="#533a9e"/><circle cx="893.3" cy="166.5" r="3.80" fill="#533a9e"/><circle cx="893.3" cy="170.2" r="3.80" fill="#533a9e"/><circle cx="893.3" cy="173.8" r="3.80" fill="#533a9e"/><circle cx="893.3" cy="177.5" r="3.80" fill="#533a9e"/><circle cx="893.3" cy="181.1" r="3.80" fill="#52399e"/><circle cx="893.3" cy="184.8" r="3.80" fill="#52399e"/><circle cx="893.3" cy="188.4" r="3.80" fill="#52399e"/><circle cx="893.3" cy="192.1" r="3.80" fill="#52399e"/><circle cx="893.3" cy="195.7" r="3.80" fill="#52399e"/><circle cx="893.3" cy="199.4" r="3.80" fill="#52399e"/><circle cx="893.3" cy="203.0" r="3.80" fill="#51399e"/><circle cx="893.3" cy="206.7" r="3.80" fill="#51399f"/><circle cx="893.3" cy="210.3" r="3.80" fill="#51399f"/><circle cx="893.3" cy="214.0" r="3.80" fill="#51399f"/><circle cx="893.3" cy="217.6" r="3.80" fill="#51399f"/><circle cx="893.3" cy="221.3" r="3.80" fill="#50399f"/><circle cx="893.3" cy="224.9" r="3.80" fill="#50399f"/><circle cx="893.3" cy="228.6" r="3.80" fill="#50399f"/><circle cx="893.3" cy="232.2" r="3.80" fill="#50399f"/><circle cx="893.3" cy="235.9" r="3.80" fill="#50399f"/><circle cx="893.3" cy="239.5" r="3.80" fill="#50399f"/><circle cx="893.3" cy="243.2" r="3.80" fill="#4f399f"/><circle cx="893.3" cy="246.8" r="3.80" fill="#4f399f"/><circle cx="893.3" cy="250.5" r="3.80" fill="#4f399f"/><circle cx="893.3" cy="254.1" r="3.80" fill="#4f399f"/><circle cx="893.3" cy="257.8" r="3.80" fill="#4f399f"/><circle cx="893.3" cy="261.4" r="3.80" fill="#4e399f"/><circle cx="893.3" cy="265.1" r="3.80" fill="#4e399f"/><circle cx="893.3" cy="268.7" r="3.80" fill="#4e399f"/><circle cx="893.3" cy="272.4" r="3.80" fill="#4e399f"/><circle cx="893.3" cy="276.0" r="3.80" fill="#4e399f"/><circle cx="893.3" cy="279.7" r="3.80" fill="#4e399f"/><circle cx="893.3" cy="283.4" r="3.80" fill="#4d389f"/><circle cx="893.3" cy="287.0" r="3.80" fill="#4d389f"/><circle cx="893.3" cy="290.7" r="3.80" fill="#4d389f"/><circle cx="893.3" cy="294.3" r="3.80" fill="#4d389f"/><circle cx="893.3" cy="298.0" r="3.80" fill="#4d389f"/><circle cx="893.3" cy="301.6" r="3.80" fill="#4c389f"/><circle cx="893.3" cy="305.3" r="3.80" fill="#4c389f"/><circle cx="893.3" cy="308.9" r="3.80" fill="#4c389f"/><circle cx="893.3" cy="312.6" r="3.80" fill="#4c389f"/><circle cx="893.3" cy="316.2" r="3.80" fill="#4c389f"/><circle cx="893.3" cy="319.9" r="3.80" fill="#4c389f"/><circle cx="893.3" cy="323.5" r="3.80" fill="#4b389f"/><circle cx="893.3" cy="327.2" r="3.80" fill="#4b389f"/><circle cx="893.3" cy="330.8" r="3.80" fill="#4b389f"/><circle cx="893.3" cy="334.5" r="3.80" fill="#4b389f"/><circle cx="893.3" cy="338.1" r="3.80" fill="#4b389f"/><circle cx="893.3" cy="341.8" r="3.80" fill="#4a389f"/><circle cx="893.3" cy="345.4" r="3.80" fill="#4a389f"/><circle cx="893.3" cy="349.1" r="3.80" fill="#4a389f"/><circle cx="893.3" cy="352.7" r="3.80" fill="#4a389f"/><circle cx="893.3" cy="356.4" r="3.80" fill="#4a389f"/><circle cx="893.3" cy="360.0" r="3.80" fill="#4a38a0"/><circle cx="893.3" cy="363.7" r="3.80" fill="#4938a0"/><circle cx="893.3" cy="367.3" r="3.80" fill="#4938a0"/><circle cx="893.3" cy="371.0" r="3.80" fill="#4938a0"/><circle cx="893.3" cy="374.6" r="3.80" fill="#4938a0"/><circle cx="893.3" cy="378.3" r="3.80" fill="#4938a0"/><circle cx="893.3" cy="381.9" r="3.80" fill="#4938a0"/><circle cx="893.3" cy="385.6" r="3.80" fill="#4837a0"/><circle cx="893.3" cy="389.2" r="3.80" fill="#4837a0"/><circle cx="893.3" cy="392.9" r="3.80" fill="#4837a0"/><circle cx="893.3" cy="396.5" r="3.80" fill="#4837a0"/><circle cx="893.3" cy="400.2" r="3.80" fill="#4837a0"/><circle cx="893.3" cy="403.8" r="3.80" fill="#4737a0"/><circle cx="893.3" cy="407.5" r="3.80" fill="#4737a0"/><circle cx="893.3" cy="411.1" r="3.80" fill="#4737a0"/><circle cx="893.3" cy="414.8" r="3.80" fill="#4737a0"/><circle cx="893.3" cy="418.4" r="3.80" fill="#4737a0"/><circle cx="893.3" cy="422.1" r="3.80" fill="#4737a0"/><circle cx="893.3" cy="425.7" r="3.80" fill="#4637a0"/><circle cx="893.3" cy="429.4" r="3.80" fill="#4637a0"/><circle cx="893.3" cy="433.0" r="3.80" fill="#4637a0"/>
<circle cx="997.9" cy="137.3" r="3.80" fill="#8c538e"/><circle cx="997.9" cy="140.9" r="3.80" fill="#8c538e"/><circle cx="997.9" cy="144.5" r="3.80" fill="#8c538e"/><circle cx="997.9" cy="148.1" r="3.80" fill="#8c538e"/><circle cx="997.9" cy="151.7" r="3.80" fill="#8c538e"/><circle cx="997.9" cy="155.3" r="3.80" fill="#8c538e"/><circle cx="997.9" cy="159.0" r="3.80" fill="#8c538e"/><circle cx="997.9" cy="162.6" r="3.80" fill="#8c538e"/><circle cx="997.9" cy="166.2" r="3.80" fill="#8c538e"/><circle cx="997.9" cy="169.8" r="3.80" fill="#8c538e"/><circle cx="997.9" cy="173.4" r="3.80" fill="#8c538e"/><circle cx="997.9" cy="177.0" r="3.80" fill="#8c538e"/><circle cx="997.9" cy="180.6" r="3.80" fill="#8c538e"/><circle cx="997.9" cy="184.2" r="3.80" fill="#8c538e"/><circle cx="997.9" cy="187.8" r="3.80" fill="#8c538e"/><circle cx="997.9" cy="191.4" r="3.80" fill="#8c538e"/><circle cx="997.9" cy="195.0" r="3.80" fill="#8c538e"/><circle cx="997.9" cy="198.6" r="3.80" fill="#8c538e"/><circle cx="997.9" cy="202.2" r="3.80" fill="#8c538e"/><circle cx="997.9" cy="205.8" r="3.80" fill="#8c538e"/><circle cx="997.9" cy="209.4" r="3.80" fill="#8c538e"/><circle cx="997.9" cy="213.0" r="3.80" fill="#8c538e"/><circle cx="997.9" cy="216.7" r="3.80" fill="#8c538e"/><circle cx="997.9" cy="220.3" r="3.80" fill="#8c538e"/><circle cx="997.9" cy="223.9" r="3.80" fill="#8c538e"/><circle cx="997.9" cy="227.5" r="3.80" fill="#8c538e"/><circle cx="997.9" cy="231.1" r="3.80" fill="#8c538e"/><circle cx="997.9" cy="234.7" r="3.80" fill="#8c538e"/><circle cx="997.9" cy="238.3" r="3.80" fill="#8c538e"/><circle cx="997.9" cy="241.9" r="3.80" fill="#8c538e"/><circle cx="997.9" cy="245.5" r="3.80" fill="#8c538e"/><circle cx="997.9" cy="249.1" r="3.80" fill="#8c538e"/><circle cx="997.9" cy="252.7" r="3.80" fill="#8c538e"/><circle cx="997.9" cy="256.3" r="3.80" fill="#8c538e"/><circle cx="997.9" cy="259.9" r="3.80" fill="#8c538e"/><circle cx="997.9" cy="263.5" r="3.80" fill="#8c538e"/><circle cx="997.9" cy="267.1" r="3.80" fill="#8c538e"/><circle cx="997.9" cy="270.8" r="3.80" fill="#8c538e"/><circle cx="997.9" cy="274.4" r="3.80" fill="#8c538e"/><circle cx="997.9" cy="278.0" r="3.80" fill="#8c538e"/><circle cx="997.9" cy="281.6" r="3.80" fill="#8c538e"/><circle cx="997.9" cy="285.2" r="3.80" fill="#8c538e"/><circle cx="997.9" cy="288.8" r="3.80" fill="#8c538e"/><circle cx="997.9" cy="292.4" r="3.80" fill="#8c538e"/><circle cx="997.9" cy="296.0" r="3.80" fill="#8c538e"/><circle cx="997.9" cy="299.6" r="3.80" fill="#8c538e"/><circle cx="997.9" cy="303.2" r="3.80" fill="#8c538e"/><circle cx="997.9" cy="306.8" r="3.80" fill="#8c538e"/>
</g>
<path d="M578.50 448.50v5.4M701.50 448.50v5.4M825.50 448.50v5.4M949.50 448.50v5.4M557.50 130.50h-5.4M557.50 203.50h-5.4M557.50 276.50h-5.4M557.50 348.50h-5.4M557.50 421.50h-5.4" stroke="#000" stroke-width="1.11" fill="none"/>
<rect x="557.50" y="115.50" width="462.00" height="333.00" fill="none" stroke="#000" stroke-width="1.11"/>
<g font-size="19.44px" text-anchor="middle">
<text x="578.0" y="473.3" textLength="12">0</text>
<text x="701.9" y="473.3" textLength="12">5</text>
<text x="825.3" y="473.3" textLength="24">10</text>
<text x="949.2" y="473.3" textLength="24">15</text>
</g>
<text x="788.0" y="497.1" font-size="19.44px" text-anchor="middle">along-transect distance [km]</text>
<g clip-path="url(#c2)">
<circle cx="1054.8" cy="122.7" r="3.80" fill="#c86950"/><circle cx="1054.8" cy="126.7" r="3.80" fill="#c86950"/><circle cx="1054.8" cy="130.6" r="3.80" fill="#c86950"/><circle cx="1054.8" cy="134.6" r="3.80" fill="#c86950"/><circle cx="1054.8" cy="138.5" r="3.80" fill="#c86950"/><circle cx="1054.8" cy="142.5" r="3.80" fill="#c86950"/><circle cx="1054.8" cy="146.5" r="3.80" fill="#c86950"/><circle cx="1054.8" cy="150.4" r="3.80" fill="#c86950"/><circle cx="1054.8" cy="154.4" r="3.80" fill="#c86950"/><circle cx="1054.8" cy="158.3" r="3.80" fill="#c86950"/><circle cx="1054.8" cy="162.3" r="3.80" fill="#c86950"/><circle cx="1054.8" cy="166.3" r="3.80" fill="#c86950"/><circle cx="1054.8" cy="170.2" r="3.80" fill="#c86950"/><circle cx="1054.8" cy="174.2" r="3.80" fill="#c86950"/><circle cx="1054.8" cy="178.2" r="3.80" fill="#c86950"/><circle cx="1054.8" cy="182.1" r="3.80" fill="#c86950"/><circle cx="1054.8" cy="186.1" r="3.80" fill="#c86950"/><circle cx="1054.8" cy="190.0" r="3.80" fill="#c96c53"/><circle cx="1054.8" cy="194.0" r="3.80" fill="#cd775e"/><circle cx="1054.8" cy="198.0" r="3.80" fill="#d18269"/><circle cx="1054.8" cy="201.9" r="3.80" fill="#d58d74"/><circle cx="1054.8" cy="205.9" r="3.80" fill="#d79178"/><circle cx="1054.8" cy="209.8" r="3.80" fill="#d79179"/><circle cx="1054.8" cy="213.8" r="3.80" fill="#d79279"/><circle cx="1054.8" cy="217.8" r="3.80" fill="#d89279"/><circle cx="1054.8" cy="221.7" r="3.80" fill="#d8927a"/><circle cx="1054.8" cy="225.7" r="3.80" fill="#d8927a"/><circle cx="1054.8" cy="229.6" r="3.80" fill="#d8937b"/><circle cx="1054.8" cy="233.6" r="3.80" fill="#d8937b"/><circle cx="1054.8" cy="237.6" r="3.80" fill="#d8937b"/><circle cx="1054.8" cy="241.5" r="3.80" fill="#d8937c"/><circle cx="1054.8" cy="245.5" r="3.80" fill="#d9947c"/><circle cx="1054.8" cy="249.5" r="3.80" fill="#d9947d"/><circle cx="1054.8" cy="253.4" r="3.80" fill="#d9947d"/><circle cx="1054.8" cy="257.4" r="3.80" fill="#d9947d"/><circle cx="1054.8" cy="261.3" r="3.80" fill="#d9957e"/><circle cx="1054.8" cy="265.3" r="3.80" fill="#d9957e"/><circle cx="1054.8" cy="269.3" r="3.80" fill="#d9957e"/><circle cx="1054.8" cy="273.2" r="3.80" fill="#da957f"/><circle cx="1054.8" cy="277.2" r="3.80" fill="#da967f"/><circle cx="1054.8" cy="281.1" r="3.80" fill="#da9680"/><circle cx="1054.8" cy="285.1" r="3.80" fill="#da9680"/>
<circle cx="1161.5" cy="115.5" r="3.80" fill="#5f0f23"/><circle cx="1161.5" cy="119.5" r="3.80" fill="#730f2d"/><circle cx="1161.5" cy="123.5" r="3.80" fill="#730f2d"/><circle cx="1161.5" cy="127.5" r="3.80" fill="#730f2d"/><circle cx="1161.5" cy="131.6" r="3.80" fill="#730f2d"/><circle cx="1161.5" cy="135.6" r="3.80" fill="#730f2d"/><circle cx="1161.5" cy="139.6" r="3.80" fill="#730f2d"/><circle cx="1161.5" cy="143.6" r="3.80" fill="#730f2d"/><circle cx="1161.5" cy="147.6" r="3.80" fill="#730f2d"/><circle cx="1161.5" cy="151.6" r="3.80" fill="#730f2d"/><circle cx="1161.5" cy="155.6" r="3.80" fill="#730f2d"/><circle cx="1161.5" cy="159.6" r="3.80" fill="#730f2d"/><circle cx="1161.5" cy="163.7" r="3.80" fill="#7b112c"/><circle cx="1161.5" cy="167.7" r="3.80" fill="#88142b"/><circle cx="1161.5" cy="171.7" r="3.80" fill="#941629"/><circle cx="1161.5" cy="175.7" r="3.80" fill="#a01928"/><circle cx="1161.5" cy="179.7" r="3.80" fill="#a11b28"/><circle cx="1161.5" cy="183.7" r="3.80" fill="#a21c28"/><circle cx="1161.5" cy="187.7" r="3.80" fill="#a21e28"/><circle cx="1161.5" cy="191.8" r="3.80" fill="#a31f28"/><circle cx="1161.5" cy="195.8" r="3.80" fill="#a42128"/><circle cx="1161.5" cy="199.8" r="3.80" fill="#a52228"/><circle cx="1161.5" cy="203.8" r="3.80" fill="#a62428"/><circle cx="1161.5" cy="207.8" r="3.80" fill="#a72627"/><circle cx="1161.5" cy="211.8" r="3.80" fill="#a82827"/><circle cx="1161.5" cy="215.8" r="3.80" fill="#aa2a27"/><circle cx="1161.5" cy="219.9" r="3.80" fill="#ab2b26"/><circle cx="1161.5" cy="223.9" r="3.80" fill="#ac2d26"/><circle cx="1161.5" cy="227.9" r="3.80" fill="#ad2e26"/><circle cx="1161.5" cy="231.9" r="3.80" fill="#ad2f26"/><circle cx="1161.5" cy="235.9" r="3.80" fill="#ae3026"/><circle cx="1161.5" cy="239.9" r="3.80" fill="#ae3127"/><circle cx="1161.5" cy="243.9" r="3.80" fill="#af3227"/><circle cx="1161.5" cy="247.9" r="3.80" fill="#af3327"/><circle cx="1161.5" cy="252.0" r="3.80" fill="#b03427"/><circle cx="1161.5" cy="256.0" r="3.80" fill="#b03527"/><circle cx="1161.5" cy="260.0" r="3.80" fill="#b13627"/><circle cx="1161.5" cy="264.0" r="3.80" fill="#b13727"/><circle cx="1161.5" cy="268.0" r="3.80" fill="#b23827"/><circle cx="1161.5" cy="272.0" r="3.80" fill="#b23928"/><circle cx="1161.5" cy="276.0" r="3.80" fill="#b33a28"/><circle cx="1161.5" cy="280.1" r="3.80" fill="#b43b28"/><circle cx="1161.5" cy="284.1" r="3.80" fill="#b43c28"/><circle cx="1161.5" cy="288.1" r="3.80" fill="#b43b28"/><circle cx="1161.5" cy="292.1" r="3.80" fill="#b33927"/><circle cx="1161.5" cy="296.1" r="3.80" fill="#b33827"/><circle cx="1161.5" cy="300.1" r="3.80" fill="#b33727"/><circle cx="1161.5" cy="304.1" r="3.80" fill="#b33627"/><circle cx="1161.5" cy="308.2" r="3.80" fill="#b23426"/><circle cx="1161.5" cy="312.2" r="3.80" fill="#b23326"/><circle cx="1161.5" cy="316.2" r="3.80" fill="#b23226"/><circle cx="1161.5" cy="320.2" r="3.80" fill="#b23226"/><circle cx="1161.5" cy="324.2" r="3.80" fill="#b23226"/><circle cx="1161.5" cy="328.2" r="3.80" fill="#b23226"/><circle cx="1161.5" cy="332.2" r="3.80" fill="#b23226"/><circle cx="1161.5" cy="336.2" r="3.80" fill="#b23226"/><circle cx="1161.5" cy="340.3" r="3.80" fill="#b23226"/><circle cx="1161.5" cy="344.3" r="3.80" fill="#b23226"/><circle cx="1161.5" cy="348.3" r="3.80" fill="#b23226"/><circle cx="1161.5" cy="352.3" r="3.80" fill="#b23226"/>
<circle cx="1263.3" cy="123.1" r="3.80" fill="#410a16"/><circle cx="1263.3" cy="127.1" r="3.80" fill="#410a16"/><circle cx="1263.3" cy="131.1" r="3.80" fill="#410a16"/><circle cx="1263.3" cy="135.2" r="3.80" fill="#410a16"/><circle cx="1263.3" cy="139.2" r="3.80" fill="#420a16"/><circle cx="1263.3" cy="143.2" r="3.80" fill="#420a16"/><circle cx="1263.3" cy="147.2" r="3.80" fill="#420a16"/><circle cx="1263.3" cy="151.2" r="3.80" fill="#420a16"/><circle cx="1263.3" cy="155.2" r="3.80" fill="#420a16"/><circle cx="1263.3" cy="159.3" r="3.80" fill="#420a16"/><circle cx="1263.3" cy="163.3" r="3.80" fill="#430a17"/><circle cx="1263.3" cy="167.3" r="3.80" fill="#430a17"/><circle cx="1263.3" cy="171.3" r="3.80" fill="#430a17"/><circle cx="1263.3" cy="175.3" r="3.80" fill="#430a17"/><circle cx="1263.3" cy="179.4" r="3.80" fill="#430a17"/><circle cx="1263.3" cy="183.4" r="3.80" fill="#430a17"/><circle cx="1263.3" cy="187.4" r="3.80" fill="#440a17"/><circle cx="1263.3" cy="191.4" r="3.80" fill="#440a17"/><circle cx="1263.3" cy="195.4" r="3.80" fill="#440a17"/><circle cx="1263.3" cy="199.5" r="3.80" fill="#490a19"/><circle cx="1263.3" cy="203.5" r="3.80" fill="#580c1e"/><circle cx="1263.3" cy="207.5" r="3.80" fill="#680d24"/><circle cx="1263.3" cy="211.5" r="3.80" fill="#780f2a"/><circle cx="1263.3" cy="215.5" r="3.80" fill="#7c102a"/><circle cx="1263.3" cy="219.5" r="3.80" fill="#80112a"/><circle cx="1263.3" cy="223.6" r="3.80" fill="#84112a"/><circle cx="1263.3" cy="227.6" r="3.80" fill="#88122b"/><circle cx="1263.3" cy="231.6" r="3.80" fill="#8c132b"/><circle cx="1263.3" cy="235.6" r="3.80" fill="#8f142b"/><circle cx="1263.3" cy="239.6" r="3.80" fill="#92142b"/><circle cx="1263.3" cy="243.7" r="3.80" fill="#92142b"/><circle cx="1263.3" cy="247.7" r="3.80" fill="#92142b"/><circle cx="1263.3" cy="251.7" r="3.80" fill="#92142b"/><circle cx="1263.3" cy="255.7" r="3.80" fill="#92142b"/><circle cx="1263.3" cy="259.7" r="3.80" fill="#92142b"/><circle cx="1263.3" cy="263.8" r="3.80" fill="#92142b"/><circle cx="1263.3" cy="267.8" r="3.80" fill="#92142b"/><circle cx="1263.3" cy="271.8" r="3.80" fill="#92142b"/><circle cx="1263.3" cy="275.8" r="3.80" fill="#92142b"/><circle cx="1263.3" cy="279.8" r="3.80" fill="#92142b"/><circle cx="1263.3" cy="283.9" r="3.80" fill="#92142b"/><circle cx="1263.3" cy="287.9" r="3.80" fill="#92142b"/><circle cx="1263.3" cy="291.9" r="3.80" fill="#92142b"/><circle cx="1263.3" cy="295.9" r="3.80" fill="#91142b"/><circle cx="1263.3" cy="299.9" r="3.80" fill="#91132b"/><circle cx="1263.3" cy="303.9" r="3.80" fill="#91132b"/><circle cx="1263.3" cy="308.0" r="3.80" fill="#91132b"/><circle cx="1263.3" cy="312.0" r="3.80" fill="#91132b"/><circle cx="1263.3" cy="316.0" r="3.80" fill="#90132c"/><circle cx="1263.3" cy="320.0" r="3.80" fill="#90132c"/><circle cx="1263.3" cy="324.0" r="3.80" fill="#90132c"/><circle cx="1263.3" cy="328.1" r="3.80" fill="#90122c"/><circle cx="1263.3" cy="332.1" r="3.80" fill="#90122c"/><circle cx="1263.3" cy="336.1" r="3.80" fill="#8f122c"/><circle cx="1263.3" cy="340.1" r="3.80" fill="#8f122c"/><circle cx="1263.3" cy="344.1" r="3.80" fill="#93142b"/><circle cx="1263.3" cy="348.1" r="3.80" fill="#9a182a"/><circle cx="1263.3" cy="352.2" r="3.80" fill="#a21c29"/><circle cx="1263.3" cy="356.2" r="3.80" fill="#a51e28"/><circle cx="1263.3" cy="360.2" r="3.80" fill="#a51e28"/><circle cx="1263.3" cy="364.2" r="3.80" fill="#a51e28"/><circle cx="1263.3" cy="368.2" r="3.80" fill="#a51e28"/><circle cx="1263.3" cy="372.3" r="3.80" fill="#a51e28"/><circle cx="1263.3" cy="376.3" r="3.80" fill="#a51e28"/><circle cx="1263.3" cy="380.3" r="3.80" fill="#a51e28"/>
<circle cx="1317.5" cy="123.1" r="3.80" fill="#3e0a14"/><circle cx="1317.5" cy="127.1" r="3.80" fill="#3e0a14"/><circle cx="1317.5" cy="131.1" r="3.80" fill="#3e0a14"/><circle cx="1317.5" cy="135.1" r="3.80" fill="#3e0a14"/><circle cx="1317.5" cy="139.1" r="3.80" fill="#3e0a14"/><circle cx="1317.5" cy="143.2" r="3.80" fill="#3e0a14"/><circle cx="1317.5" cy="147.2" r="3.80" fill="#3e0a14"/><circle cx="1317.5" cy="151.2" r="3.80" fill="#3e0a14"/><circle cx="1317.5" cy="155.2" r="3.80" fill="#3e0a14"/><circle cx="1317.5" cy="159.2" r="3.80" fill="#3e0a14"/><circle cx="1317.5" cy="163.2" r="3.80" fill="#3e0a14"/><circle cx="1317.5" cy="167.2" r="3.80" fill="#3e0a14"/><circle cx="1317.5" cy="171.2" r="3.80" fill="#3e0a14"/><circle cx="1317.5" cy="175.2" r="3.80" fill="#3e0a14"/><circle cx="1317.5" cy="179.2" r="3.80" fill="#3e0a14"/><circle cx="1317.5" cy="183.3" r="3.80" fill="#3e0a14"/><circle cx="1317.5" cy="187.3" r="3.80" fill="#440b17"/><circle cx="1317.5" cy="191.3" r="3.80" fill="#4a0d1a"/><circle cx="1317.5" cy="195.3" r="3.80" fill="#500e1e"/><circle cx="1317.5" cy="199.3" r="3.80" fill="#500e1e"/><circle cx="1317.5" cy="203.3" r="3.80" fill="#500e1e"/><circle cx="1317.5" cy="207.3" r="3.80" fill="#500e1e"/><circle cx="1317.5" cy="211.3" r="3.80" fill="#500e1e"/><circle cx="1317.5" cy="215.3" r="3.80" fill="#500e1e"/><circle cx="1317.5" cy="219.4" r="3.80" fill="#510e1f"/><circle cx="1317.5" cy="223.4" r="3.80" fill="#510e1f"/><circle cx="1317.5" cy="227.4" r="3.80" fill="#510e1f"/><circle cx="1317.5" cy="231.4" r="3.80" fill="#510e1f"/><circle cx="1317.5" cy="235.4" r="3.80" fill="#510e1f"/><circle cx="1317.5" cy="239.4" r="3.80" fill="#510e1f"/><circle cx="1317.5" cy="243.4" r="3.80" fill="#510e1f"/><circle cx="1317.5" cy="247.4" r="3.80" fill="#510e1f"/><circle cx="1317.5" cy="251.4" r="3.80" fill="#510e1f"/><circle cx="1317.5" cy="255.5" r="3.80" fill="#510e1f"/><circle cx="1317.5" cy="259.5" r="3.80" fill="#510e1f"/><circle cx="1317.5" cy="263.5" r="3.80" fill="#520e20"/><circle cx="1317.5" cy="267.5" r="3.80" fill="#520e20"/><circle cx="1317.5" cy="271.5" r="3.80" fill="#520e20"/><circle cx="1317.5" cy="275.5" r="3.80" fill="#520e20"/><circle cx="1317.5" cy="279.5" r="3.80" fill="#520e20"/><circle cx="1317.5" cy="283.5" r="3.80" fill="#520e20"/><circle cx="1317.5" cy="287.5" r="3.80" fill="#550e21"/><circle cx="1317.5" cy="291.5" r="3.80" fill="#570e22"/><circle cx="1317.5" cy="295.6" r="3.80" fill="#5a0e23"/><circle cx="1317.5" cy="299.6" r="3.80" fill="#5c0e24"/><circle cx="1317.5" cy="303.6" r="3.80" fill="#5f0f24"/><circle cx="1317.5" cy="307.6" r="3.80" fill="#610f25"/><circle cx="1317.5" cy="311.6" r="3.80" fill="#640f26"/><circle cx="1317.5" cy="315.6" r="3.80" fill="#670f27"/><circle cx="1317.5" cy="319.6" r="3.80" fill="#690f28"/><circle cx="1317.5" cy="323.6" r="3.80" fill="#6d0f29"/><circle cx="1317.5" cy="327.6" r="3.80" fill="#721029"/><circle cx="1317.5" cy="331.7" r="3.80" fill="#76102a"/><circle cx="1317.5" cy="335.7" r="3.80" fill="#7a112b"/><circle cx="1317.5" cy="339.7" r="3.80" fill="#7f112c"/><circle cx="1317.5" cy="343.7" r="3.80" fill="#83122c"/><circle cx="1317.5" cy="347.7" r="3.80" fill="#87122d"/><circle cx="1317.5" cy="351.7" r="3.80" fill="#8a132c"/><circle cx="1317.5" cy="355.7" r="3.80" fill="#8e142c"/><circle cx="1317.5" cy="359.7" r="3.80" fill="#91152c"/><circle cx="1317.5" cy="363.7" r="3.80" fill="#94162b"/><circle cx="1317.5" cy="367.8" r="3.80" fill="#97172b"/><circle cx="1317.5" cy="371.8" r="3.80" fill="#9a182a"/><circle cx="1317.5" cy="375.8" r="3.80" fill="#9f1c28"/><circle cx="1317.5" cy="379.8" r="3.80" fill="#a42226"/><circle cx="1317.5" cy="383.8" r="3.80" fill="#aa2926"/><circle cx="1317.5" cy="387.8" r="3.80" fill="#b03126"/><circle cx="1317.5" cy="391.8" r="3.80" fill="#b43727"/><circle cx="1317.5" cy="395.8" r="3.80" fill="#b73b27"/><circle cx="1317.5" cy="399.8" r="3.80" fill="#b93e28"/><circle cx="1317.5" cy="403.8" r="3.80" fill="#b93e28"/><circle cx="1317.5" cy="407.9" r="3.80" fill="#b93f29"/><circle cx="1317.5" cy="411.9" r="3.80" fill="#ba3f29"/><circle cx="1317.5" cy="415.9" r="3.80" fill="#ba3f29"/><circle cx="1317.5" cy="419.9" r="3.80" fill="#ba402a"/><circle cx="1317.5" cy="423.9" r="3.80" fill="#ba402a"/>
<circle cx="1370.3" cy="123.1" r="3.80" fill="#620f24"/><circle cx="1370.3" cy="127.1" r="3.80" fill="#620f24"/><circle cx="1370.3" cy="131.1" r="3.80" fill="#610f24"/><circle cx="1370.3" cy="135.1" r="3.80" fill="#610f24"/><circle cx="1370.3" cy="139.2" r="3.80" fill="#610f24"/><circle cx="1370.3" cy="143.2" r="3.80" fill="#610f24"/><circle cx="1370.3" cy="147.2" r="3.80" fill="#600f24"/><circle cx="1370.3" cy="151.2" r="3.80" fill="#600f23"/><circle cx="1370.3" cy="155.2" r="3.80" fill="#600f23"/><circle cx="1370.3" cy="159.2" r="3.80" fill="#600f23"/><circle cx="1370.3" cy="163.2" r="3.80" fill="#5f0f23"/><circle cx="1370.3" cy="167.3" r="3.80" fill="#5f0f23"/><circle cx="1370.3" cy="171.3" r="3.80" fill="#5f0f23"/><circle cx="1370.3" cy="175.3" r="3.80" fill="#5f0f23"/><circle cx="1370.3" cy="179.3" r="3.80" fill="#5e0f23"/><circle cx="1370.3" cy="183.3" r="3.80" fill="#5e0f23"/><circle cx="1370.3" cy="187.3" r="3.80" fill="#5e0f23"/><circle cx="1370.3" cy="191.4" r="3.80" fill="#5e0f23"/><circle cx="1370.3" cy="195.4" r="3.80" fill="#5d0f23"/><circle cx="1370.3" cy="199.4" r="3.80" fill="#5d0f23"/><circle cx="1370.3" cy="203.4" r="3.80" fill="#5d0e22"/><circle cx="1370.3" cy="207.4" r="3.80" fill="#5d0e22"/><circle cx="1370.3" cy="211.4" r="3.80" fill="#5c0e22"/><circle cx="1370.3" cy="215.4" r="3.80" fill="#5c0e22"/><circle cx="1370.3" cy="219.5" r="3.80" fill="#5c0e22"/><circle cx="1370.3" cy="223.5" r="3.80" fill="#5c0e22"/><circle cx="1370.3" cy="227.5" r="3.80" fill="#5b0e22"/><circle cx="1370.3" cy="231.5" r="3.80" fill="#5b0e22"/><circle cx="1370.3" cy="235.5" r="3.80" fill="#5b0e22"/><circle cx="1370.3" cy="239.5" r="3.80" fill="#5b0e22"/><circle cx="1370.3" cy="243.5" r="3.80" fill="#5a0e22"/><circle cx="1370.3" cy="247.6" r="3.80" fill="#5a0e22"/><circle cx="1370.3" cy="251.6" r="3.80" fill="#5a0e22"/><circle cx="1370.3" cy="255.6" r="3.80" fill="#5a0e22"/><circle cx="1370.3" cy="259.6" r="3.80" fill="#590e21"/><circle cx="1370.3" cy="263.6" r="3.80" fill="#590e21"/><circle cx="1370.3" cy="267.6" r="3.80" fill="#590e21"/><circle cx="1370.3" cy="271.6" r="3.80" fill="#590e21"/><circle cx="1370.3" cy="275.7" r="3.80" fill="#580e21"/><circle cx="1370.3" cy="279.7" r="3.80" fill="#580e21"/><circle cx="1370.3" cy="283.7" r="3.80" fill="#580e21"/><circle cx="1370.3" cy="287.7" r="3.80" fill="#5a0e22"/><circle cx="1370.3" cy="291.7" r="3.80" fill="#5d0e23"/><circle cx="1370.3" cy="295.7" r="3.80" fill="#5f0f24"/><circle cx="1370.3" cy="299.8" r="3.80" fill="#610f25"/><circle cx="1370.3" cy="303.8" r="3.80" fill="#630f26"/><circle cx="1370.3" cy="307.8" r="3.80" fill="#690f27"/><circle cx="1370.3" cy="311.8" r="3.80" fill="#6f1028"/><circle cx="1370.3" cy="315.8" r="3.80" fill="#76112a"/><circle cx="1370.3" cy="319.8" r="3.80" fill="#7d112b"/><circle cx="1370.3" cy="323.8" r="3.80" fill="#83122c"/><circle cx="1370.3" cy="327.9" r="3.80" fill="#88122d"/><circle cx="1370.3" cy="331.9" r="3.80" fill="#8b132c"/><circle cx="1370.3" cy="335.9" r="3.80" fill="#8e132c"/><circle cx="1370.3" cy="339.9" r="3.80" fill="#90142c"/><circle cx="1370.3" cy="343.9" r="3.80" fill="#93142b"/><circle cx="1370.3" cy="347.9" r="3.80" fill="#96152b"/><circle cx="1370.3" cy="351.9" r="3.80" fill="#98152b"/><circle cx="1370.3" cy="356.0" r="3.80" fill="#9b162a"/><circle cx="1370.3" cy="360.0" r="3.80" fill="#9c162a"/><circle cx="1370.3" cy="364.0" r="3.80" fill="#9b162a"/><circle cx="1370.3" cy="368.0" r="3.80" fill="#9b152a"/><circle cx="1370.3" cy="372.0" r="3.80" fill="#9a152a"/><circle cx="1370.3" cy="376.0" r="3.80" fill="#9a152a"/><circle cx="1370.3" cy="380.0" r="3.80" fill="#9a152a"/><circle cx="1370.3" cy="384.1" r="3.80" fill="#99152a"/><circle cx="1370.3" cy="388.1" r="3.80" fill="#99142a"/><circle cx="1370.3" cy="392.1" r="3.80" fill="#98142a"/><circle cx="1370.3" cy="396.1" r="3.80" fill="#98142a"/><circle cx="1370.3" cy="400.1" r="3.80" fill="#af2e26"/><circle cx="1370.3" cy="404.1" r="3.80" fill="#b02f26"/><circle cx="1370.3" cy="408.2" r="3.80" fill="#b02f26"/><circle cx="1370.3" cy="412.2" r="3.80" fill="#b03026"/><circle cx="1370.3" cy="416.2" r="3.80" fill="#b13026"/><circle cx="1370.3" cy="420.2" r="3.80" fill="#b13026"/><circle cx="1370.3" cy="424.2" r="3.80" fill="#b13026"/><circle cx="1370.3" cy="428.2" r="3.80" fill="#b13125"/><circle cx="1370.3" cy="432.2" r="3.80" fill="#b13125"/><circle cx="1370.3" cy="436.3" r="3.80" fill="#b13125"/><circle cx="1370.3" cy="440.3" r="3.80" fill="#b23125"/><circle cx="1370.3" cy="444.3" r="3.80" fill="#b23225"/><circle cx="1370.3" cy="448.3" r="3.80" fill="#b23225"/>
<circle cx="1474.9" cy="123.1" r="3.80" fill="#780f2a"/><circle cx="1474.9" cy="127.1" r="3.80" fill="#8f142b"/><circle cx="1474.9" cy="131.2" r="3.80" fill="#96172a"/><circle cx="1474.9" cy="135.2" r="3.80" fill="#9c1a29"/><circle cx="1474.9" cy="139.2" r="3.80" fill="#a21e28"/><circle cx="1474.9" cy="143.3" r="3.80" fill="#a42128"/><circle cx="1474.9" cy="147.3" r="3.80" fill="#a72427"/><circle cx="1474.9" cy="151.3" r="3.80" fill="#a92727"/><circle cx="1474.9" cy="155.4" r="3.80" fill="#ac2a26"/><circle cx="1474.9" cy="159.4" r="3.80" fill="#ad2c26"/><circle cx="1474.9" cy="163.4" r="3.80" fill="#af2f27"/><circle cx="1474.9" cy="167.5" r="3.80" fill="#b03127"/><circle cx="1474.9" cy="171.5" r="3.80" fill="#b23428"/><circle cx="1474.9" cy="175.6" r="3.80" fill="#b33728"/><circle cx="1474.9" cy="179.6" r="3.80" fill="#b53929"/><circle cx="1474.9" cy="183.6" r="3.80" fill="#b63c29"/><circle cx="1474.9" cy="187.7" r="3.80" fill="#b73e29"/><circle cx="1474.9" cy="191.7" r="3.80" fill="#b9412a"/><circle cx="1474.9" cy="195.7" r="3.80" fill="#b9412a"/><circle cx="1474.9" cy="199.8" r="3.80" fill="#b9422a"/><circle cx="1474.9" cy="203.8" r="3.80" fill="#ba422b"/><circle cx="1474.9" cy="207.8" r="3.80" fill="#ba432b"/><circle cx="1474.9" cy="211.9" r="3.80" fill="#ba432b"/><circle cx="1474.9" cy="215.9" r="3.80" fill="#ba442c"/><circle cx="1474.9" cy="219.9" r="3.80" fill="#bb442c"/><circle cx="1474.9" cy="224.0" r="3.80" fill="#bb442c"/><circle cx="1474.9" cy="228.0" r="3.80" fill="#bb452c"/><circle cx="1474.9" cy="232.0" r="3.80" fill="#bb452d"/><circle cx="1474.9" cy="236.1" r="3.80" fill="#bb462d"/><circle cx="1474.9" cy="240.1" r="3.80" fill="#bc462d"/><circle cx="1474.9" cy="244.1" r="3.80" fill="#bc472d"/><circle cx="1474.9" cy="248.2" r="3.80" fill="#bc472e"/><circle cx="1474.9" cy="252.2" r="3.80" fill="#bc482e"/><circle cx="1474.9" cy="256.2" r="3.80" fill="#bd482e"/><circle cx="1474.9" cy="260.3" r="3.80" fill="#bd482e"/><circle cx="1474.9" cy="264.3" r="3.80" fill="#bd492f"/><circle cx="1474.9" cy="268.4" r="3.80" fill="#bd492f"/><circle cx="1474.9" cy="272.4" r="3.80" fill="#bd4a2f"/><circle cx="1474.9" cy="276.4" r="3.80" fill="#be4a30"/><circle cx="1474.9" cy="280.5" r="3.80" fill="#be4b30"/><circle cx="1474.9" cy="284.5" r="3.80" fill="#be4b30"/><circle cx="1474.9" cy="288.5" r="3.80" fill="#bf4c30"/><circle cx="1474.9" cy="292.6" r="3.80" fill="#c04d31"/><circle cx="1474.9" cy="296.6" r="3.80" fill="#c14e31"/><circle cx="1474.9" cy="300.6" r="3.80" fill="#c14e31"/><circle cx="1474.9" cy="304.7" r="3.80" fill="#c24f32"/><circle cx="1474.9" cy="308.7" r="3.80" fill="#c35032"/>
</g>
<path d="M1055.50 448.50v5.4M1178.50 448.50v5.4M1302.50 448.50v5.4M1426.50 448.50v5.4M1034.50 115.50h-5.4M1034.50 155.50h-5.4M1034.50 195.50h-5.4M1034.50 235.50h-5.4M1034.50 275.50h-5.4M1034.50 315.50h-5.4M1034.50 355.50h-5.4M1034.50 395.50h-5.4M1034.50 435.50h-5.4" stroke="#000" stroke-width="1.11" fill="none"/>
<rect x="1034.50" y="115.50" width="462.00" height="333.00" fill="none" stroke="#000" stroke-width="1.11"/>
<g font-size="19.44px" text-anchor="middle">
<text x="1055.0" y="473.3" textLength="12">0</text>
<text x="1178.9" y="473.3" textLength="12">5</text>
<text x="1302.3" y="473.3" textLength="24">10</text>
<text x="1426.2" y="473.3" textLength="24">15</text>
</g>
<text x="1265.0" y="497.1" font-size="19.44px" text-anchor="middle">along-transect distance [km]</text>
<g font-size="19.44px" text-anchor="end">
<text x="70.1" y="137.8" textLength="12">0</text>
<text x="68.9" y="209.8" textLength="40">−20</text>
<text x="68.9" y="282.8" textLength="40">−40</text>
<text x="68.9" y="355.8" textLength="40">−60</text>
<text x="68.9" y="428.8" textLength="40">−80</text>
</g>
<text transform="translate(17.5 282.4) rotate(-90)" font-size="19.44px" text-anchor="middle" textLength="98.5">Depth [m]</text>
<rect x="314.50" y="521.50" width="470.00" height="24.00" fill="url(#gt)" stroke="#000" stroke-width="1.11"/><path d="M417.50 545.50v5.4M524.50 545.50v5.4M632.50 545.50v5.4M739.50 545.50v5.4" stroke="#000" stroke-width="1.11" fill="none"/><g font-size="19.44px" text-anchor="middle"><text x="416.00" y="569.7" textLength="42">10.0</text><text x="524.05" y="569.7" textLength="42">10.5</text><text x="630.70" y="569.7" textLength="42">11.0</text><text x="738.05" y="569.7" textLength="42">11.5</text></g><text x="548.5" y="593.7" font-size="19.44px" text-anchor="middle">Sea water temperature [C]</text>
<rect x="1034.50" y="521.50" width="462.00" height="23.00" fill="url(#gb)" stroke="#000" stroke-width="1.11"/><path d="M1139.50 544.50v5.4M1265.50 544.50v5.4M1390.50 544.50v5.4" stroke="#000" stroke-width="1.11" fill="none"/><g font-size="19.44px" text-anchor="middle"><text x="1138.90" y="568.7" textLength="28">−1</text><text x="1265.45" y="568.7" textLength="12">0</text><text x="1390.35" y="568.7" textLength="12">1</text></g><text x="1265.0" y="593.7" font-size="19.44px" text-anchor="middle" textLength="365.6">Sea water temperature [C] difference</text>
</svg>
</body></html>
